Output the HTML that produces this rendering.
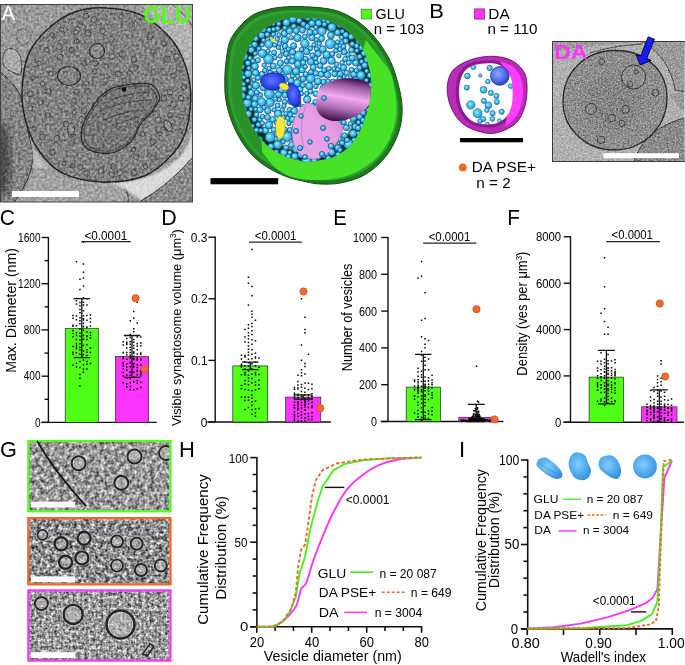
<!DOCTYPE html>
<html><head><meta charset="utf-8"><style>
html,body{margin:0;padding:0;background:#fff;width:685px;height:665px;overflow:hidden}
svg{display:block;will-change:transform}
text{font-family:"Liberation Sans", sans-serif}
</style></head><body>
<svg width="685" height="665" viewBox="0 0 685 665">
<defs>
<filter id="nzA" x="0" y="0" width="1" height="1" color-interpolation-filters="sRGB">
 <feTurbulence type="fractalNoise" baseFrequency="0.38" numOctaves="2" seed="4"/>
 <feColorMatrix type="matrix" values="1 0 0 0 0  1 0 0 0 0  1 0 0 0 0  0 0 0 0 1"/>
 <feComponentTransfer><feFuncR type="linear" slope="1.6" intercept="-0.3"/><feFuncG type="linear" slope="1.6" intercept="-0.3"/><feFuncB type="linear" slope="1.6" intercept="-0.3"/></feComponentTransfer>
 <feGaussianBlur stdDeviation="0.45"/>
</filter>
<filter id="nzB" x="0" y="0" width="1" height="1" color-interpolation-filters="sRGB">
 <feTurbulence type="fractalNoise" baseFrequency="0.6" numOctaves="2" seed="14"/>
 <feColorMatrix type="matrix" values="1 0 0 0 0  1 0 0 0 0  1 0 0 0 0  0 0 0 0 1"/>
 <feComponentTransfer><feFuncR type="linear" slope="1.4" intercept="-0.2"/><feFuncG type="linear" slope="1.4" intercept="-0.2"/><feFuncB type="linear" slope="1.4" intercept="-0.2"/></feComponentTransfer>
 <feGaussianBlur stdDeviation="0.35"/>
</filter>
<filter id="nzG" x="0" y="0" width="1" height="1" color-interpolation-filters="sRGB">
 <feTurbulence type="fractalNoise" baseFrequency="0.2" numOctaves="2" seed="9" result="n"/>
 <feColorMatrix in="n" type="matrix" values="1 0 0 0 0  1 0 0 0 0  1 0 0 0 0  0 0 0 0 1" result="g"/>
 <feComponentTransfer><feFuncR type="linear" slope="0.7" intercept="0.25"/><feFuncG type="linear" slope="0.7" intercept="0.25"/><feFuncB type="linear" slope="0.7" intercept="0.25"/></feComponentTransfer>
 <feConvolveMatrix order="3" kernelMatrix="-1 -1 -1 -1 12 -1 -1 -1 -1" preserveAlpha="true" edgeMode="duplicate"/>
 <feGaussianBlur stdDeviation="0.45"/>
</filter>
<filter id="nzG2" x="0" y="0" width="1" height="1" color-interpolation-filters="sRGB">
 <feTurbulence type="fractalNoise" baseFrequency="0.22" numOctaves="2" seed="21" result="n"/>
 <feColorMatrix in="n" type="matrix" values="1 0 0 0 0  1 0 0 0 0  1 0 0 0 0  0 0 0 0 1" result="g"/>
 <feComponentTransfer><feFuncR type="linear" slope="0.8" intercept="0.16"/><feFuncG type="linear" slope="0.8" intercept="0.16"/><feFuncB type="linear" slope="0.8" intercept="0.16"/></feComponentTransfer>
 <feConvolveMatrix order="3" kernelMatrix="-1 -1 -1 -1 12 -1 -1 -1 -1" preserveAlpha="true" edgeMode="duplicate"/>
 <feGaussianBlur stdDeviation="0.45"/>
</filter>
<filter id="nzG3" x="0" y="0" width="1" height="1" color-interpolation-filters="sRGB">
 <feTurbulence type="fractalNoise" baseFrequency="0.26" numOctaves="2" seed="33" result="n"/>
 <feColorMatrix in="n" type="matrix" values="1 0 0 0 0  1 0 0 0 0  1 0 0 0 0  0 0 0 0 1" result="g"/>
 <feComponentTransfer><feFuncR type="linear" slope="0.65" intercept="0.28"/><feFuncG type="linear" slope="0.65" intercept="0.28"/><feFuncB type="linear" slope="0.65" intercept="0.28"/></feComponentTransfer>
 <feConvolveMatrix order="3" kernelMatrix="-1 -1 -1 -1 12 -1 -1 -1 -1" preserveAlpha="true" edgeMode="duplicate"/>
 <feGaussianBlur stdDeviation="0.45"/>
</filter>
<filter id="bl2"><feGaussianBlur stdDeviation="2"/></filter>
<filter id="bl4"><feGaussianBlur stdDeviation="4"/></filter>
<filter id="bl1"><feGaussianBlur stdDeviation="0.8"/></filter>
<clipPath id="cA"><rect x="0.5" y="4.5" width="192" height="197.5"/></clipPath>
<clipPath id="cB"><rect x="552.5" y="41.5" width="132" height="119.5"/></clipPath>
<radialGradient id="sph" cx="0.42" cy="0.4" r="0.66"><stop offset="0" stop-color="#b4f2ff"/><stop offset="0.35" stop-color="#52cbf6"/><stop offset="0.8" stop-color="#2ea4da"/><stop offset="1" stop-color="#125f94"/></radialGradient>
<radialGradient id="bsph" cx="0.4" cy="0.38" r="0.7"><stop offset="0" stop-color="#8ea8ff"/><stop offset="0.6" stop-color="#4a6ae8"/><stop offset="1" stop-color="#2438b0"/></radialGradient><radialGradient id="bblob" cx="0.45" cy="0.45" r="0.65"><stop offset="0" stop-color="#5c78ff"/><stop offset="0.6" stop-color="#2f44e6"/><stop offset="1" stop-color="#1a24a8"/></radialGradient>
<linearGradient id="mito1" x1="0" y1="1" x2="1" y2="0"><stop offset="0" stop-color="#eaa6ea"/><stop offset="0.6" stop-color="#e69ee6"/><stop offset="1" stop-color="#c67ccc"/></linearGradient>
<radialGradient id="mito2" cx="0.55" cy="0.4" r="0.62"><stop offset="0" stop-color="#f0a8f0"/><stop offset="0.45" stop-color="#c47ac8"/><stop offset="0.85" stop-color="#6a2a70"/><stop offset="1" stop-color="#3a0a40"/></radialGradient>
</defs>
<g clip-path="url(#cA)">
<rect x="0" y="4" width="193" height="199" fill="#9a9a9a"/>
<path d="M140,4 L193,4 L193,100 C190,70 175,40 140,4 Z" fill="#b2b2b2"/>
<path d="M172,4.5 C180,10 187,18 193,27" stroke="#3a3a3a" stroke-width="0.9" fill="none"/>
<path d="M0,71 C8,80 19,88 22,100 C25,118 29,136 32,150 C34,165 30,180 14,203 L0,203 Z" fill="#858585"/>
<ellipse cx="2" cy="160" rx="9" ry="38" fill="#4a4a4a" filter="url(#bl4)"/>
<path d="M0,71 C8,80 19,88 22,100 C25,118 29,136 32,150 C34,165 30,180 14,203" stroke="#333" stroke-width="1" fill="none"/>
<path d="M30,138 C34,150 40,160 50,168 C44,169 38,169 34,168 C34,160 33,150 30,138 Z" fill="#bdbdbd" filter="url(#bl1)"/>
<path d="M34,168 C45,172 60,176 80,180 C100,183 115,182 121,183 C127,189 129,196 128,203 L14,203 C26,190 32,180 34,168 Z" fill="#a2a2a2"/>
<path d="M121,183 C127,189 129,196 128,203" stroke="#3a3a3a" stroke-width="1" fill="none"/>
<path d="M138,203 C155,190 175,175 193,158 L193,203 Z" fill="#8a8a8a"/>
<path d="M110,182 C140,184 165,172 182,155 C188,147 191,138 193,128 L193,158 C178,175 160,190 141,201 C133,193 122,187 110,182 Z" fill="#dadada" filter="url(#bl1)"/>
<path d="M141,201 C160,190 178,175 193,157" stroke="#404040" stroke-width="1.1" fill="none"/>
<path d="M3,63 C2,54 6,48 11,48.5 C17,49 21,55 21.5,63 C22,68 21.5,72 20.5,75 C14,73 5,70 3,63 Z" fill="#aaaaaa" stroke="#3a3a3a" stroke-width="0.9"/>
<path d="M18,30 C23,27 30,30 31,36 C31,41 27,45 22,44 C17,43 15,35 18,30 Z" fill="none" stroke="#555" stroke-width="0.8"/>
<path d="M101.7,7.7 C112.5,8.0 127.9,9.5 138.7,13.9 C149.5,18.3 159.2,26.7 166.4,33.9 C173.6,41.1 178.0,47.6 182.0,57.0 C186.0,66.3 189.8,77.9 190.5,90.0 C191.2,102.1 189.4,118.8 186.4,129.5 C183.4,140.2 179.5,146.4 172.6,154.1 C165.7,161.8 156.6,171.1 144.8,175.7 C133.0,180.3 115.6,182.4 101.7,181.9 C87.8,181.4 72.4,178.2 61.6,172.6 C50.8,166.9 43.1,157.2 37.0,148.0 C30.8,138.8 27.2,127.4 24.7,117.1 C22.2,106.8 21.4,97.1 22.2,86.3 C23.0,75.5 24.8,62.2 29.3,52.4 C33.8,42.6 41.8,34.4 49.3,27.7 C56.8,21.0 65.3,15.6 74.0,12.3 C82.7,9.0 90.9,7.4 101.7,7.7 Z" fill="#828282" stroke="#262626" stroke-width="1.5"/>
<path d="M123.5,85.3 C128.6,84.3 135.1,83.5 140.0,83.5 C144.9,83.5 149.4,82.9 152.7,85.3 C156.0,87.7 159.7,93.2 159.6,97.7 C159.5,102.2 155.0,107.8 152.0,112.0 C149.0,116.2 145.2,117.7 141.6,122.7 C138.0,127.7 135.8,137.0 130.5,142.1 C125.2,147.2 117.1,152.3 109.7,153.2 C102.3,154.1 90.7,151.8 86.1,147.7 C81.5,143.5 80.3,135.9 81.9,128.3 C83.5,120.7 91.2,108.4 95.8,101.9 C100.4,95.4 105.1,92.2 109.7,89.4 C114.3,86.6 118.5,86.3 123.5,85.3 Z" fill="#777777" stroke="#2a2a2a" stroke-width="1.3"/>
<path d="M123.3,87.7 C128.0,86.7 134.1,86.0 138.7,86.0 C143.2,86.0 147.4,85.5 150.5,87.7 C153.5,89.9 157.0,95.1 156.9,99.2 C156.8,103.3 152.6,108.6 149.8,112.5 C147.0,116.4 143.5,117.8 140.2,122.4 C136.8,127.1 134.8,135.8 129.8,140.5 C124.9,145.2 117.4,149.9 110.5,150.8 C103.6,151.7 92.9,149.6 88.5,145.7 C84.2,141.8 83.1,134.7 84.6,127.6 C86.1,120.6 93.3,109.1 97.6,103.1 C101.9,97.1 106.2,94.0 110.5,91.5 C114.8,88.9 118.6,88.6 123.3,87.7 Z" fill="none" stroke="#3a3a3a" stroke-width="0.8"/>
<path d="M103,104 C118,96 135,92 150,92 M98,112 C115,104 135,100 152,100 M104,120 C118,114 132,110 146,110 M112,126 C124,121 134,118 140,117" stroke="#3c3c3c" stroke-width="0.8" fill="none"/>
<ellipse cx="124" cy="89.5" rx="2.4" ry="2.2" fill="#111"/>
<g fill="#8a8a8a" stroke="#4a4a4a" stroke-width="1.0"><circle cx="145.6" cy="166.8" r="2.2"/><circle cx="100.9" cy="170.4" r="2.8"/><circle cx="60.3" cy="57.5" r="3.0"/><circle cx="149.8" cy="37.1" r="2.9"/><circle cx="47.6" cy="115.0" r="2.3"/><circle cx="59.1" cy="46.6" r="3.1"/><circle cx="167.2" cy="59.2" r="3.1"/><circle cx="52.1" cy="34.8" r="2.3"/><circle cx="74.1" cy="112.5" r="2.2"/><circle cx="135.5" cy="67.4" r="2.5"/><circle cx="76.5" cy="91.8" r="2.8"/><circle cx="153.4" cy="72.3" r="2.7"/><circle cx="57.0" cy="138.5" r="3.0"/><circle cx="178.6" cy="68.5" r="2.5"/><circle cx="42.6" cy="137.2" r="2.9"/><circle cx="80.4" cy="167.1" r="2.7"/><circle cx="93.7" cy="19.5" r="3.0"/><circle cx="30.3" cy="93.9" r="3.0"/><circle cx="42.4" cy="83.9" r="2.3"/><circle cx="184.1" cy="87.1" r="2.6"/><circle cx="181.4" cy="116.6" r="2.6"/><circle cx="80.2" cy="25.2" r="2.4"/><circle cx="152.5" cy="157.5" r="2.5"/><circle cx="153.1" cy="141.7" r="2.8"/><circle cx="65.9" cy="124.2" r="2.6"/><circle cx="158.1" cy="120.1" r="2.9"/><circle cx="81.7" cy="119.5" r="2.9"/><circle cx="166.8" cy="127.0" r="3.1"/><circle cx="180.9" cy="98.1" r="2.7"/><circle cx="52.1" cy="152.2" r="3.0"/><circle cx="142.3" cy="134.2" r="2.4"/><circle cx="76.7" cy="40.9" r="2.4"/><circle cx="63.8" cy="163.5" r="2.2"/><circle cx="85.9" cy="16.1" r="2.8"/><circle cx="40.5" cy="102.7" r="2.5"/><circle cx="119.7" cy="172.9" r="2.9"/><circle cx="129.7" cy="72.8" r="2.3"/><circle cx="86.3" cy="83.4" r="2.4"/><circle cx="86.9" cy="173.4" r="3.0"/><circle cx="122.1" cy="54.2" r="3.1"/><circle cx="105.9" cy="80.6" r="2.5"/><circle cx="102.7" cy="30.7" r="2.8"/><circle cx="111.8" cy="56.5" r="3.0"/><circle cx="152.5" cy="51.8" r="2.4"/><circle cx="74.0" cy="100.7" r="2.5"/><circle cx="121.3" cy="16.2" r="2.4"/><circle cx="173.6" cy="75.5" r="2.6"/><circle cx="163.9" cy="43.4" r="2.5"/><circle cx="71.7" cy="142.7" r="3.0"/><circle cx="48.3" cy="91.3" r="2.7"/><circle cx="106.1" cy="66.2" r="2.3"/><circle cx="180.2" cy="131.1" r="2.3"/><circle cx="72.7" cy="166.1" r="2.3"/><circle cx="124.5" cy="80.4" r="2.3"/><circle cx="95.4" cy="63.5" r="2.7"/><circle cx="34.1" cy="128.5" r="2.3"/><circle cx="173.4" cy="104.3" r="2.8"/><circle cx="46.8" cy="49.9" r="2.5"/><circle cx="131.8" cy="24.5" r="2.8"/><circle cx="133.4" cy="149.5" r="2.3"/><circle cx="87.9" cy="33.2" r="2.9"/><circle cx="163.8" cy="98.0" r="2.7"/><circle cx="169.9" cy="91.8" r="2.9"/><circle cx="170.0" cy="115.3" r="2.6"/><circle cx="50.9" cy="73.7" r="2.5"/><circle cx="71.8" cy="50.0" r="2.6"/><circle cx="134.0" cy="59.5" r="2.8"/><circle cx="84.4" cy="63.0" r="2.6"/><circle cx="71.2" cy="134.5" r="2.8"/><circle cx="33.2" cy="77.5" r="2.3"/><circle cx="38.8" cy="63.4" r="2.3"/><circle cx="113.3" cy="166.6" r="2.7"/><circle cx="118.1" cy="74.0" r="2.8"/><circle cx="61.5" cy="29.7" r="2.5"/><circle cx="76.0" cy="32.1" r="2.3"/><circle cx="94.9" cy="71.6" r="2.5"/><circle cx="159.8" cy="133.6" r="2.3"/><circle cx="111.4" cy="39.1" r="2.8"/><circle cx="111.8" cy="174.8" r="2.7"/><circle cx="30.4" cy="108.1" r="2.6"/><circle cx="136.3" cy="156.7" r="2.8"/><circle cx="87.4" cy="90.9" r="2.8"/><circle cx="84.1" cy="110.9" r="2.8"/><circle cx="176.5" cy="56.7" r="2.8"/><circle cx="134.2" cy="172.7" r="3.0"/></g>
<circle cx="97" cy="51" r="7.5" fill="#8a8a8a" stroke="#2a2a2a" stroke-width="1.2"/>
<ellipse cx="69" cy="76" rx="11.5" ry="9.5" fill="#848484" stroke="#2a2a2a" stroke-width="1.2"/>
<ellipse cx="71" cy="129" rx="3.5" ry="6" fill="#909090" stroke="#3a3a3a" stroke-width="1"/>
<ellipse cx="168" cy="126" rx="3.6" ry="6" transform="rotate(-30 168 126)" fill="#909090" stroke="#3a3a3a" stroke-width="1"/>
<rect x="0" y="4" width="193" height="199" filter="url(#nzA)" opacity="0.38" style="mix-blend-mode:overlay"/>
</g>
<rect x="0.5" y="4.5" width="192" height="197.5" fill="none" stroke="#444" stroke-width="1"/>
<rect x="12" y="191" width="67" height="6" fill="#fff"/>
<text x="1.80" y="20.30" font-size="20.00" fill="#fff" textLength="13.14" lengthAdjust="spacingAndGlyphs">A</text>
<text x="143.39" y="23.00" font-size="23.50" fill="#50ff16" font-weight="bold" textLength="47.78" lengthAdjust="spacingAndGlyphs">GLU</text>
<path d="M300.0,6.6 C306.8,6.8 317.9,7.3 324.8,8.3 C331.7,9.3 335.9,10.2 341.4,12.4 C346.9,14.6 352.9,18.1 357.9,21.5 C362.8,24.9 367.0,28.7 371.1,33.1 C375.2,37.5 379.1,42.5 382.7,48.0 C386.3,53.5 389.8,59.2 392.6,66.2 C395.4,73.2 398.0,83.4 399.6,90.0 C401.2,96.6 401.7,100.7 402.0,106.0 C402.3,111.3 402.1,116.7 401.2,122.1 C400.3,127.5 398.7,132.8 396.4,138.2 C394.1,143.5 391.0,149.4 387.5,154.2 C384.0,159.0 379.9,163.3 375.5,167.1 C371.1,170.8 366.9,174.0 361.0,176.7 C355.1,179.4 347.0,181.9 340.1,183.1 C333.2,184.3 325.8,184.3 319.5,184.0 C313.2,183.7 308.2,182.2 302.6,181.0 C297.0,179.8 291.9,178.7 286.1,176.5 C280.3,174.3 273.4,171.0 267.9,167.6 C262.4,164.2 257.5,160.4 253.1,156.0 C248.7,151.6 245.1,147.0 241.5,141.2 C237.9,135.4 234.2,128.2 231.6,121.3 C229.0,114.4 226.9,106.7 225.8,99.8 C224.7,92.9 224.8,86.3 224.8,80.0 C224.8,73.7 225.2,68.5 226.0,62.0 C226.8,55.5 227.6,47.2 229.9,41.3 C232.2,35.4 236.0,30.8 239.8,26.4 C243.7,22.0 248.0,17.8 253.0,14.9 C258.0,12.0 264.4,10.4 269.6,9.1 C274.8,7.8 278.9,7.4 284.0,7.0 C289.1,6.6 293.2,6.4 300.0,6.6 Z" fill="#1f7a1f" stroke="#124d12" stroke-width="1"/>
<path d="M300.5,10.1 C307.0,10.3 317.7,10.8 324.3,11.8 C330.9,12.7 334.9,13.6 340.2,15.7 C345.5,17.8 351.3,21.1 356.1,24.4 C360.8,27.8 364.8,31.3 368.7,35.6 C372.7,39.8 376.4,44.6 379.9,49.9 C383.3,55.2 386.7,60.6 389.4,67.4 C392.1,74.1 394.6,83.8 396.1,90.2 C397.6,96.6 398.1,100.4 398.4,105.6 C398.7,110.7 398.5,115.9 397.6,121.0 C396.7,126.2 395.2,131.3 393.0,136.5 C390.8,141.6 387.8,147.2 384.5,151.8 C381.1,156.5 377.2,160.6 373.0,164.2 C368.7,167.8 364.7,170.9 359.0,173.4 C353.4,176.0 345.6,178.4 339.0,179.6 C332.3,180.7 325.2,180.8 319.2,180.4 C313.2,180.1 308.3,178.8 303.0,177.6 C297.6,176.4 292.7,175.4 287.1,173.2 C281.6,171.1 274.9,168.0 269.7,164.7 C264.4,161.4 259.7,157.8 255.5,153.6 C251.2,149.3 247.8,144.9 244.3,139.4 C240.9,133.8 237.3,126.9 234.8,120.2 C232.3,113.6 230.3,106.2 229.2,99.6 C228.2,93.0 228.3,86.6 228.3,80.6 C228.3,74.6 228.6,69.5 229.4,63.3 C230.3,57.1 231.0,49.1 233.2,43.4 C235.4,37.8 239.0,33.4 242.7,29.1 C246.4,24.9 250.6,20.9 255.4,18.1 C260.1,15.3 266.3,13.8 271.3,12.5 C276.3,11.3 280.3,10.9 285.1,10.5 C290.0,10.1 294.0,9.9 300.5,10.1 Z" fill="#2fa02f"/>
<path d="M300.9,13.2 C307.2,13.4 317.5,13.9 323.8,14.8 C330.2,15.7 334.1,16.6 339.2,18.6 C344.3,20.6 349.9,23.8 354.5,27.0 C359.0,30.2 362.8,33.7 366.7,37.7 C370.5,41.8 374.1,46.4 377.4,51.5 C380.7,56.6 383.9,61.9 386.6,68.4 C389.2,74.8 391.6,84.2 393.0,90.4 C394.5,96.5 395.0,100.2 395.2,105.2 C395.5,110.1 395.4,115.1 394.5,120.1 C393.6,125.0 392.2,130.0 390.1,135.0 C388.0,139.9 385.1,145.3 381.8,149.8 C378.6,154.2 374.8,158.2 370.7,161.7 C366.7,165.2 362.8,168.1 357.3,170.6 C351.9,173.0 344.4,175.4 338.0,176.5 C331.6,177.6 324.7,177.6 318.9,177.3 C313.2,177.0 308.5,175.7 303.3,174.6 C298.2,173.4 293.4,172.5 288.0,170.4 C282.7,168.3 276.3,165.3 271.2,162.2 C266.1,159.0 261.6,155.5 257.5,151.4 C253.4,147.4 250.1,143.1 246.8,137.7 C243.5,132.4 240.1,125.7 237.6,119.3 C235.2,112.9 233.3,105.8 232.3,99.4 C231.2,93.1 231.3,87.0 231.3,81.1 C231.4,75.3 231.7,70.4 232.4,64.5 C233.2,58.5 233.9,50.8 236.1,45.3 C238.2,39.8 241.7,35.6 245.2,31.5 C248.8,27.5 252.8,23.6 257.4,20.9 C262.0,18.2 268.0,16.8 272.8,15.5 C277.6,14.3 281.4,14.0 286.1,13.6 C290.8,13.2 294.6,13.0 300.9,13.2 Z" fill="#289228"/>
<path d="M366.0,40.0 C368.3,43.0 376.0,52.7 380.0,58.0 C384.0,63.3 387.6,66.7 390.0,72.0 C392.4,77.3 393.6,83.0 394.7,90.0 C395.8,97.0 397.2,106.0 396.4,114.0 C395.6,122.0 393.2,130.8 390.0,138.0 C386.8,145.2 382.6,151.8 377.0,157.4 C371.4,163.1 363.7,168.3 356.2,171.9 C348.7,175.5 341.5,177.9 332.1,179.1 C322.7,180.3 309.0,180.5 300.0,179.0 C291.0,177.5 284.3,174.5 278.0,170.0 C271.7,165.5 264.7,155.0 262.0,152.0 L261.3,139.5 C263.5,141.4 269.8,148.0 274.5,151.0 C279.2,154.0 284.1,155.9 289.4,157.7 C294.6,159.5 301.6,161.3 306.0,161.8 C310.4,162.3 311.6,161.4 316.0,160.7 C320.4,160.0 326.7,159.6 332.1,157.4 C337.5,155.2 343.6,152.1 348.2,147.8 C352.8,143.5 356.2,138.0 359.4,131.8 C362.6,125.7 365.5,117.0 367.4,110.9 C369.2,104.8 369.9,100.2 370.5,95.0 C371.1,89.8 371.6,84.8 371.1,79.4 C370.7,74.1 369.2,67.9 367.8,62.9 C366.4,57.9 363.7,51.8 362.9,49.6 Z" fill="#47e227"/>
<clipPath id="cO"><path d="M300.0,18.2 C305.8,18.5 317.6,18.2 324.8,19.9 C332.0,21.5 338.0,25.1 343.0,28.1 C348.0,31.1 351.3,34.4 354.6,38.0 C357.9,41.6 360.7,45.5 362.9,49.6 C365.1,53.8 366.4,57.9 367.8,62.9 C369.2,67.9 370.7,74.1 371.1,79.4 C371.6,84.8 371.1,89.8 370.5,95.0 C369.9,100.2 369.2,104.8 367.4,110.9 C365.5,117.0 362.6,125.7 359.4,131.8 C356.2,138.0 352.8,143.5 348.2,147.8 C343.6,152.1 337.5,155.2 332.1,157.4 C326.7,159.6 320.4,160.0 316.0,160.7 C311.6,161.4 310.4,162.3 306.0,161.8 C301.6,161.3 294.6,159.5 289.4,157.7 C284.1,155.9 279.2,154.0 274.5,151.0 C269.8,148.0 265.4,144.4 261.3,139.5 C257.2,134.6 252.8,127.9 249.8,121.3 C246.8,114.7 244.3,106.7 243.1,99.8 C241.8,92.9 242.3,86.0 242.3,80.0 C242.3,74.0 241.8,69.7 243.0,64.0 C244.2,58.3 246.5,51.4 249.5,46.0 C252.5,40.6 256.2,35.6 261.0,31.5 C265.8,27.4 273.2,23.8 278.0,21.5 C282.8,19.2 286.3,18.6 290.0,18.0 C293.7,17.4 294.2,17.9 300.0,18.2 Z"/></clipPath>
<path d="M300.0,18.2 C305.8,18.5 317.6,18.2 324.8,19.9 C332.0,21.5 338.0,25.1 343.0,28.1 C348.0,31.1 351.3,34.4 354.6,38.0 C357.9,41.6 360.7,45.5 362.9,49.6 C365.1,53.8 366.4,57.9 367.8,62.9 C369.2,67.9 370.7,74.1 371.1,79.4 C371.6,84.8 371.1,89.8 370.5,95.0 C369.9,100.2 369.2,104.8 367.4,110.9 C365.5,117.0 362.6,125.7 359.4,131.8 C356.2,138.0 352.8,143.5 348.2,147.8 C343.6,152.1 337.5,155.2 332.1,157.4 C326.7,159.6 320.4,160.0 316.0,160.7 C311.6,161.4 310.4,162.3 306.0,161.8 C301.6,161.3 294.6,159.5 289.4,157.7 C284.1,155.9 279.2,154.0 274.5,151.0 C269.8,148.0 265.4,144.4 261.3,139.5 C257.2,134.6 252.8,127.9 249.8,121.3 C246.8,114.7 244.3,106.7 243.1,99.8 C241.8,92.9 242.3,86.0 242.3,80.0 C242.3,74.0 241.8,69.7 243.0,64.0 C244.2,58.3 246.5,51.4 249.5,46.0 C252.5,40.6 256.2,35.6 261.0,31.5 C265.8,27.4 273.2,23.8 278.0,21.5 C282.8,19.2 286.3,18.6 290.0,18.0 C293.7,17.4 294.2,17.9 300.0,18.2 Z" fill="#ffffff"/>
<g clip-path="url(#cO)">
<path d="M300.0,18.2 C305.8,18.5 317.6,18.2 324.8,19.9 C332.0,21.5 338.0,25.1 343.0,28.1 C348.0,31.1 351.3,34.4 354.6,38.0 C357.9,41.6 360.7,45.5 362.9,49.6 C365.1,53.8 366.4,57.9 367.8,62.9 C369.2,67.9 370.7,74.1 371.1,79.4 C371.6,84.8 371.1,89.8 370.5,95.0 C369.9,100.2 369.2,104.8 367.4,110.9 C365.5,117.0 362.6,125.7 359.4,131.8 C356.2,138.0 352.8,143.5 348.2,147.8 C343.6,152.1 337.5,155.2 332.1,157.4 C326.7,159.6 320.4,160.0 316.0,160.7 C311.6,161.4 310.4,162.3 306.0,161.8 C301.6,161.3 294.6,159.5 289.4,157.7 C284.1,155.9 279.2,154.0 274.5,151.0 C269.8,148.0 265.4,144.4 261.3,139.5 C257.2,134.6 252.8,127.9 249.8,121.3 C246.8,114.7 244.3,106.7 243.1,99.8 C241.8,92.9 242.3,86.0 242.3,80.0 C242.3,74.0 241.8,69.7 243.0,64.0 C244.2,58.3 246.5,51.4 249.5,46.0 C252.5,40.6 256.2,35.6 261.0,31.5 C265.8,27.4 273.2,23.8 278.0,21.5 C282.8,19.2 286.3,18.6 290.0,18.0 C293.7,17.4 294.2,17.9 300.0,18.2 Z" fill="none" stroke="#0a360a" stroke-width="18" filter="url(#bl1)"/>
<g fill="url(#sph)" stroke="#0c4a7a" stroke-width="0.7"><circle cx="269.1" cy="160.3" r="2.9"/><circle cx="264.5" cy="20.7" r="2.9"/><circle cx="271.9" cy="165.9" r="3.1"/><circle cx="292.9" cy="18.6" r="4.3"/><circle cx="300.1" cy="89.2" r="3.1"/><circle cx="360.9" cy="75.2" r="4.3"/><circle cx="270.1" cy="17.0" r="3.3"/><circle cx="309.3" cy="86.1" r="3.8"/><circle cx="337.5" cy="114.8" r="2.6"/><circle cx="373.8" cy="23.6" r="3.8"/><circle cx="252.8" cy="22.8" r="3.1"/><circle cx="332.7" cy="89.6" r="5.0"/><circle cx="361.5" cy="102.4" r="2.9"/><circle cx="321.1" cy="96.0" r="2.3"/><circle cx="304.9" cy="43.5" r="4.3"/><circle cx="337.9" cy="147.9" r="3.3"/><circle cx="314.4" cy="144.0" r="3.8"/><circle cx="256.5" cy="130.2" r="2.6"/><circle cx="310.9" cy="61.7" r="3.5"/><circle cx="368.1" cy="142.2" r="5.0"/><circle cx="323.5" cy="60.9" r="3.5"/><circle cx="310.4" cy="91.5" r="2.6"/><circle cx="348.7" cy="144.2" r="5.0"/><circle cx="268.1" cy="51.1" r="2.3"/><circle cx="278.5" cy="47.4" r="2.3"/><circle cx="296.0" cy="71.3" r="3.8"/><circle cx="262.0" cy="74.2" r="2.9"/><circle cx="265.6" cy="130.5" r="3.3"/><circle cx="254.0" cy="135.1" r="3.8"/><circle cx="284.8" cy="39.9" r="3.8"/><circle cx="362.0" cy="35.1" r="4.3"/><circle cx="293.8" cy="26.2" r="2.6"/><circle cx="277.6" cy="28.5" r="2.6"/><circle cx="328.9" cy="130.2" r="5.0"/><circle cx="287.3" cy="136.8" r="5.0"/><circle cx="304.9" cy="36.6" r="2.6"/><circle cx="264.0" cy="152.7" r="3.5"/><circle cx="290.9" cy="101.2" r="3.3"/><circle cx="286.1" cy="160.7" r="2.3"/><circle cx="357.9" cy="19.0" r="2.9"/><circle cx="262.4" cy="161.4" r="4.3"/><circle cx="254.6" cy="44.5" r="3.1"/><circle cx="337.4" cy="122.8" r="4.3"/><circle cx="268.9" cy="44.0" r="4.3"/><circle cx="335.0" cy="107.0" r="2.3"/><circle cx="327.8" cy="140.0" r="5.0"/><circle cx="250.8" cy="161.1" r="5.0"/><circle cx="350.2" cy="100.5" r="5.0"/><circle cx="269.4" cy="93.9" r="5.0"/><circle cx="326.7" cy="15.0" r="3.3"/><circle cx="362.5" cy="127.0" r="3.8"/><circle cx="268.6" cy="59.1" r="5.0"/><circle cx="295.5" cy="127.1" r="3.5"/><circle cx="308.7" cy="109.0" r="3.5"/><circle cx="345.3" cy="59.0" r="2.6"/><circle cx="353.4" cy="118.0" r="3.5"/><circle cx="330.2" cy="43.8" r="5.0"/><circle cx="307.5" cy="26.5" r="2.9"/><circle cx="247.4" cy="125.4" r="3.3"/><circle cx="373.5" cy="132.6" r="3.3"/><circle cx="373.2" cy="55.7" r="5.0"/><circle cx="346.3" cy="127.6" r="3.1"/><circle cx="270.1" cy="137.3" r="5.0"/><circle cx="351.7" cy="69.9" r="2.6"/><circle cx="346.7" cy="73.0" r="2.9"/><circle cx="344.9" cy="164.9" r="2.3"/><circle cx="345.7" cy="34.8" r="3.1"/><circle cx="331.9" cy="27.2" r="4.3"/><circle cx="301.0" cy="115.7" r="3.3"/><circle cx="364.8" cy="28.1" r="3.5"/><circle cx="247.1" cy="150.8" r="3.5"/><circle cx="297.5" cy="37.9" r="3.8"/><circle cx="258.4" cy="124.6" r="2.6"/><circle cx="364.7" cy="65.2" r="3.1"/><circle cx="345.7" cy="41.0" r="2.9"/><circle cx="338.9" cy="86.8" r="2.6"/><circle cx="374.6" cy="155.5" r="2.9"/><circle cx="333.2" cy="82.2" r="3.3"/><circle cx="294.8" cy="156.3" r="3.5"/><circle cx="332.8" cy="163.5" r="4.3"/><circle cx="306.5" cy="161.7" r="5.0"/><circle cx="346.1" cy="91.8" r="3.1"/><circle cx="315.9" cy="73.4" r="2.9"/><circle cx="351.0" cy="112.4" r="2.6"/><circle cx="277.9" cy="18.9" r="3.5"/><circle cx="351.7" cy="16.2" r="2.9"/><circle cx="315.3" cy="102.0" r="2.6"/><circle cx="289.1" cy="90.4" r="3.5"/><circle cx="373.1" cy="68.4" r="3.5"/><circle cx="289.4" cy="109.6" r="2.3"/><circle cx="338.6" cy="155.2" r="3.5"/><circle cx="287.4" cy="69.7" r="5.0"/><circle cx="261.7" cy="35.2" r="3.3"/><circle cx="318.0" cy="53.6" r="3.3"/><circle cx="277.7" cy="144.7" r="4.3"/><circle cx="284.7" cy="101.9" r="2.6"/><circle cx="312.9" cy="121.8" r="2.9"/><circle cx="267.8" cy="110.7" r="3.3"/><circle cx="367.8" cy="135.5" r="2.6"/><circle cx="239.9" cy="81.4" r="3.1"/><circle cx="248.2" cy="114.0" r="3.5"/><circle cx="366.3" cy="80.3" r="2.3"/><circle cx="272.7" cy="119.5" r="3.1"/><circle cx="292.4" cy="119.3" r="3.3"/><circle cx="280.2" cy="56.1" r="2.3"/><circle cx="293.6" cy="45.7" r="3.1"/><circle cx="259.4" cy="139.4" r="3.1"/><circle cx="331.7" cy="152.2" r="3.5"/><circle cx="322.6" cy="107.8" r="4.3"/><circle cx="251.3" cy="92.9" r="3.5"/><circle cx="321.6" cy="38.6" r="3.1"/><circle cx="284.3" cy="33.5" r="3.3"/><circle cx="247.9" cy="63.1" r="2.9"/><circle cx="353.1" cy="154.1" r="3.8"/><circle cx="286.7" cy="61.2" r="2.6"/><circle cx="240.2" cy="16.3" r="5.0"/><circle cx="281.7" cy="121.2" r="2.6"/><circle cx="321.8" cy="31.3" r="4.3"/><circle cx="272.0" cy="154.0" r="2.3"/><circle cx="338.9" cy="55.8" r="2.3"/><circle cx="358.5" cy="96.2" r="2.3"/><circle cx="366.7" cy="93.5" r="2.9"/><circle cx="372.7" cy="101.2" r="5.0"/><circle cx="338.9" cy="100.1" r="3.8"/><circle cx="323.5" cy="81.9" r="2.9"/><circle cx="278.8" cy="127.8" r="3.5"/><circle cx="286.4" cy="22.5" r="3.8"/><circle cx="298.0" cy="120.6" r="3.1"/><circle cx="303.3" cy="24.0" r="2.6"/><circle cx="263.2" cy="87.8" r="3.1"/><circle cx="242.1" cy="66.9" r="2.6"/><circle cx="317.9" cy="81.4" r="3.5"/><circle cx="251.8" cy="142.5" r="2.3"/><circle cx="319.5" cy="133.3" r="4.3"/><circle cx="368.7" cy="110.4" r="2.9"/><circle cx="298.8" cy="56.0" r="5.0"/><circle cx="307.2" cy="99.4" r="3.8"/><circle cx="367.0" cy="59.6" r="3.1"/><circle cx="361.5" cy="47.6" r="2.9"/><circle cx="291.1" cy="80.9" r="3.3"/><circle cx="280.4" cy="162.9" r="2.6"/><circle cx="240.8" cy="152.4" r="3.5"/><circle cx="374.5" cy="120.8" r="2.3"/><circle cx="312.7" cy="156.6" r="2.3"/><circle cx="328.8" cy="68.5" r="2.6"/><circle cx="271.0" cy="146.4" r="3.1"/><circle cx="281.3" cy="90.0" r="3.1"/><circle cx="308.2" cy="129.9" r="2.9"/><circle cx="355.6" cy="62.8" r="3.3"/><circle cx="259.9" cy="119.5" r="2.3"/><circle cx="320.3" cy="18.1" r="2.3"/><circle cx="336.8" cy="129.7" r="2.9"/><circle cx="369.2" cy="129.7" r="2.3"/><circle cx="254.0" cy="16.3" r="4.3"/><circle cx="255.6" cy="109.2" r="2.3"/><circle cx="353.1" cy="133.5" r="3.8"/><circle cx="310.6" cy="78.6" r="4.3"/><circle cx="312.8" cy="105.5" r="2.3"/><circle cx="270.4" cy="73.5" r="3.3"/><circle cx="341.5" cy="42.9" r="2.3"/><circle cx="255.2" cy="53.5" r="2.3"/><circle cx="328.1" cy="21.5" r="2.6"/><circle cx="358.1" cy="110.6" r="2.9"/><circle cx="341.3" cy="15.3" r="4.3"/><circle cx="302.1" cy="69.9" r="3.1"/><circle cx="283.9" cy="152.8" r="3.8"/><circle cx="280.3" cy="63.2" r="3.3"/><circle cx="269.2" cy="30.0" r="2.6"/><circle cx="303.1" cy="107.4" r="2.9"/><circle cx="263.0" cy="81.1" r="2.6"/><circle cx="301.6" cy="49.5" r="2.3"/><circle cx="247.7" cy="80.8" r="2.3"/><circle cx="361.5" cy="146.0" r="2.6"/><circle cx="248.1" cy="73.7" r="3.8"/><circle cx="274.2" cy="109.9" r="2.3"/><circle cx="347.5" cy="19.0" r="2.3"/><circle cx="305.7" cy="58.7" r="2.6"/><circle cx="304.7" cy="146.1" r="4.3"/><circle cx="286.1" cy="53.8" r="2.9"/><circle cx="337.6" cy="32.4" r="3.1"/><circle cx="332.7" cy="97.7" r="2.9"/><circle cx="262.2" cy="53.3" r="4.3"/><circle cx="358.9" cy="41.2" r="3.1"/><circle cx="331.5" cy="60.6" r="3.8"/><circle cx="345.0" cy="83.1" r="2.9"/><circle cx="325.4" cy="149.2" r="2.9"/><circle cx="343.9" cy="76.8" r="2.3"/><circle cx="369.9" cy="35.1" r="4.3"/><circle cx="255.8" cy="85.4" r="3.8"/><circle cx="285.1" cy="46.2" r="2.9"/><circle cx="296.8" cy="162.0" r="3.1"/><circle cx="345.9" cy="26.1" r="3.1"/><circle cx="255.3" cy="98.5" r="3.1"/><circle cx="328.4" cy="158.3" r="2.9"/><circle cx="240.8" cy="48.9" r="3.5"/><circle cx="248.3" cy="140.2" r="2.3"/><circle cx="247.3" cy="103.2" r="4.3"/><circle cx="267.4" cy="117.5" r="2.9"/><circle cx="243.7" cy="89.0" r="2.9"/><circle cx="277.0" cy="134.5" r="2.6"/><circle cx="327.3" cy="74.8" r="3.5"/><circle cx="277.6" cy="105.5" r="2.6"/><circle cx="344.1" cy="51.8" r="3.1"/><circle cx="246.9" cy="40.6" r="3.5"/><circle cx="320.4" cy="163.0" r="3.1"/><circle cx="359.7" cy="116.7" r="3.1"/><circle cx="314.7" cy="17.8" r="3.3"/><circle cx="260.1" cy="109.8" r="3.1"/><circle cx="355.4" cy="126.6" r="3.3"/><circle cx="291.7" cy="144.8" r="3.1"/><circle cx="369.5" cy="46.5" r="3.3"/><circle cx="341.4" cy="37.4" r="2.3"/><circle cx="332.3" cy="145.2" r="2.3"/><circle cx="357.4" cy="163.8" r="4.3"/><circle cx="314.3" cy="161.1" r="3.3"/><circle cx="371.5" cy="85.2" r="3.1"/><circle cx="296.2" cy="30.7" r="3.1"/><circle cx="316.5" cy="48.9" r="2.3"/><circle cx="312.0" cy="23.2" r="3.3"/><circle cx="343.4" cy="87.9" r="2.3"/><circle cx="316.1" cy="39.9" r="2.3"/><circle cx="284.0" cy="106.0" r="2.3"/><circle cx="339.4" cy="138.9" r="2.9"/><circle cx="296.3" cy="149.0" r="3.8"/><circle cx="289.9" cy="130.0" r="2.6"/><circle cx="262.1" cy="44.8" r="2.3"/><circle cx="360.9" cy="84.4" r="3.5"/><circle cx="373.5" cy="14.2" r="5.0"/><circle cx="340.3" cy="162.5" r="2.9"/><circle cx="371.1" cy="165.2" r="5.0"/><circle cx="306.6" cy="51.5" r="3.3"/><circle cx="251.3" cy="49.8" r="3.3"/><circle cx="352.3" cy="57.9" r="3.1"/><circle cx="302.3" cy="134.0" r="2.3"/><circle cx="241.5" cy="127.0" r="2.3"/><circle cx="275.3" cy="83.0" r="4.3"/><circle cx="320.1" cy="122.9" r="2.3"/><circle cx="366.6" cy="71.0" r="2.3"/><circle cx="328.0" cy="102.1" r="4.3"/><circle cx="320.1" cy="65.6" r="2.9"/><circle cx="278.1" cy="113.8" r="3.8"/><circle cx="334.6" cy="135.3" r="2.9"/><circle cx="273.4" cy="34.4" r="2.3"/><circle cx="289.5" cy="31.1" r="3.3"/><circle cx="343.1" cy="158.0" r="2.6"/><circle cx="301.2" cy="128.2" r="2.9"/><circle cx="292.2" cy="61.0" r="3.3"/><circle cx="307.9" cy="18.0" r="2.9"/><circle cx="274.1" cy="52.5" r="2.6"/><circle cx="298.0" cy="137.4" r="2.3"/><circle cx="297.2" cy="83.0" r="3.8"/><circle cx="322.8" cy="49.2" r="3.5"/><circle cx="374.9" cy="111.3" r="2.3"/><circle cx="297.5" cy="103.5" r="3.5"/><circle cx="360.3" cy="153.0" r="2.6"/><circle cx="283.1" cy="141.7" r="2.3"/><circle cx="311.9" cy="37.5" r="3.3"/><circle cx="253.4" cy="33.5" r="2.9"/><circle cx="370.0" cy="123.8" r="2.3"/><circle cx="277.2" cy="39.0" r="2.3"/><circle cx="334.6" cy="73.9" r="2.9"/><circle cx="250.1" cy="58.1" r="2.3"/><circle cx="348.8" cy="62.7" r="2.6"/><circle cx="270.0" cy="102.7" r="4.3"/><circle cx="262.6" cy="16.5" r="2.3"/><circle cx="323.6" cy="88.8" r="3.8"/><circle cx="358.8" cy="142.3" r="2.9"/><circle cx="313.3" cy="112.9" r="3.3"/><circle cx="286.0" cy="147.5" r="2.6"/><circle cx="255.6" cy="72.7" r="3.5"/><circle cx="241.9" cy="95.8" r="3.8"/><circle cx="241.9" cy="105.9" r="2.3"/><circle cx="263.2" cy="29.3" r="3.3"/><circle cx="337.6" cy="42.1" r="2.3"/><circle cx="239.0" cy="114.8" r="3.8"/><circle cx="364.0" cy="14.4" r="3.5"/><circle cx="309.9" cy="32.2" r="3.1"/><circle cx="247.8" cy="25.7" r="2.6"/><circle cx="342.8" cy="105.6" r="3.8"/><circle cx="257.8" cy="60.2" r="2.6"/><circle cx="359.6" cy="56.6" r="2.6"/><circle cx="243.7" cy="56.5" r="4.3"/><circle cx="264.2" cy="65.2" r="2.3"/><circle cx="355.2" cy="80.0" r="3.5"/><circle cx="351.4" cy="50.1" r="2.9"/><circle cx="240.5" cy="36.2" r="2.6"/><circle cx="333.6" cy="16.8" r="3.8"/><circle cx="334.0" cy="68.9" r="2.3"/><circle cx="239.2" cy="138.4" r="3.3"/><circle cx="245.5" cy="34.0" r="3.5"/><circle cx="283.6" cy="15.6" r="3.5"/><circle cx="255.4" cy="145.5" r="2.6"/><circle cx="349.6" cy="88.4" r="2.3"/><circle cx="358.4" cy="133.3" r="2.3"/><circle cx="372.3" cy="89.8" r="2.3"/><circle cx="261.7" cy="102.0" r="4.3"/><circle cx="351.2" cy="36.7" r="3.1"/><circle cx="262.0" cy="144.5" r="3.5"/><circle cx="299.2" cy="20.7" r="2.9"/><circle cx="330.1" cy="116.3" r="3.5"/><circle cx="257.1" cy="152.9" r="2.3"/><circle cx="305.7" cy="138.2" r="2.6"/><circle cx="354.8" cy="89.1" r="3.8"/><circle cx="303.1" cy="78.9" r="3.1"/><circle cx="340.0" cy="49.2" r="2.6"/><circle cx="240.8" cy="132.0" r="2.9"/><circle cx="363.9" cy="53.3" r="2.9"/><circle cx="268.9" cy="125.1" r="3.8"/><circle cx="244.6" cy="119.0" r="2.9"/><circle cx="291.1" cy="37.7" r="2.3"/><circle cx="357.8" cy="29.3" r="2.6"/><circle cx="341.4" cy="94.4" r="2.9"/><circle cx="301.4" cy="93.6" r="2.3"/><circle cx="326.7" cy="54.7" r="3.8"/><circle cx="343.4" cy="67.5" r="3.3"/><circle cx="285.1" cy="95.1" r="3.1"/><circle cx="241.0" cy="73.2" r="2.9"/><circle cx="238.1" cy="124.2" r="2.3"/><circle cx="254.9" cy="66.3" r="3.5"/><circle cx="356.9" cy="50.7" r="2.3"/><circle cx="279.3" cy="99.6" r="2.3"/><circle cx="260.5" cy="94.9" r="2.3"/><circle cx="365.8" cy="41.1" r="2.3"/><circle cx="273.2" cy="66.1" r="3.1"/><circle cx="282.8" cy="79.0" r="5.0"/><circle cx="346.0" cy="111.0" r="3.1"/><circle cx="313.2" cy="67.3" r="3.1"/><circle cx="291.6" cy="164.7" r="2.9"/><circle cx="238.6" cy="161.2" r="4.3"/><circle cx="240.0" cy="145.6" r="4.3"/><circle cx="246.6" cy="135.4" r="3.1"/><circle cx="254.4" cy="119.5" r="2.6"/><circle cx="363.8" cy="160.3" r="3.5"/><circle cx="367.3" cy="22.4" r="2.6"/><circle cx="315.0" cy="151.1" r="3.5"/><circle cx="344.8" cy="117.2" r="2.9"/><circle cx="316.0" cy="86.4" r="2.3"/><circle cx="324.4" cy="24.2" r="2.6"/><circle cx="308.5" cy="152.9" r="3.3"/><circle cx="286.0" cy="113.7" r="2.3"/><circle cx="355.0" cy="24.2" r="2.3"/><circle cx="312.3" cy="127.0" r="2.6"/><circle cx="302.8" cy="85.1" r="2.6"/><circle cx="369.9" cy="75.3" r="2.9"/><circle cx="307.3" cy="124.0" r="2.3"/><circle cx="317.5" cy="118.7" r="2.6"/><circle cx="350.4" cy="78.0" r="2.3"/><circle cx="276.1" cy="152.4" r="2.9"/><circle cx="300.1" cy="14.4" r="2.9"/><circle cx="310.4" cy="48.4" r="2.3"/><circle cx="320.8" cy="153.6" r="2.3"/><circle cx="315.4" cy="58.4" r="2.6"/><circle cx="258.0" cy="22.2" r="2.6"/><circle cx="313.8" cy="137.9" r="3.1"/><circle cx="243.7" cy="77.3" r="2.3"/><circle cx="368.4" cy="155.2" r="3.8"/><circle cx="364.1" cy="121.9" r="2.3"/><circle cx="374.8" cy="126.6" r="2.9"/><circle cx="252.3" cy="126.1" r="2.3"/><circle cx="296.6" cy="95.6" r="3.3"/><circle cx="266.5" cy="77.9" r="2.3"/><circle cx="340.2" cy="74.0" r="3.1"/><circle cx="303.1" cy="62.8" r="2.9"/><circle cx="238.5" cy="29.7" r="4.3"/><circle cx="288.9" cy="123.4" r="2.3"/><circle cx="351.5" cy="27.7" r="2.9"/><circle cx="325.9" cy="112.9" r="2.6"/><circle cx="330.9" cy="35.3" r="3.5"/><circle cx="373.2" cy="80.4" r="2.6"/><circle cx="274.6" cy="45.0" r="2.3"/><circle cx="305.3" cy="66.7" r="2.3"/><circle cx="325.6" cy="95.4" r="3.1"/><circle cx="343.5" cy="46.5" r="2.6"/><circle cx="324.2" cy="119.5" r="3.5"/><circle cx="255.5" cy="38.3" r="3.1"/><circle cx="267.3" cy="34.5" r="2.6"/><circle cx="321.8" cy="145.7" r="2.3"/><circle cx="289.8" cy="152.6" r="2.3"/><circle cx="365.2" cy="89.1" r="2.6"/><circle cx="305.7" cy="74.2" r="2.6"/><circle cx="365.9" cy="99.4" r="2.3"/><circle cx="279.1" cy="35.0" r="2.3"/><circle cx="243.3" cy="23.9" r="2.6"/><circle cx="370.5" cy="148.4" r="2.3"/><circle cx="243.5" cy="156.5" r="2.3"/><circle cx="339.8" cy="24.7" r="3.1"/><circle cx="314.0" cy="44.9" r="2.3"/><circle cx="315.9" cy="93.7" r="2.9"/><circle cx="337.3" cy="110.1" r="2.3"/><circle cx="336.7" cy="64.3" r="2.3"/><circle cx="284.3" cy="164.9" r="2.3"/><circle cx="276.7" cy="157.4" r="3.1"/><circle cx="297.8" cy="64.0" r="3.5"/><circle cx="344.4" cy="135.6" r="2.9"/><circle cx="269.1" cy="68.3" r="2.3"/><circle cx="318.6" cy="23.1" r="3.3"/><circle cx="330.1" cy="121.5" r="2.3"/><circle cx="302.4" cy="30.1" r="3.1"/><circle cx="359.5" cy="67.8" r="2.6"/><circle cx="321.1" cy="74.2" r="3.1"/><circle cx="353.8" cy="74.3" r="3.1"/><circle cx="251.0" cy="109.1" r="2.3"/><circle cx="249.9" cy="87.1" r="2.3"/><circle cx="374.3" cy="115.9" r="2.3"/><circle cx="292.4" cy="52.0" r="3.3"/><circle cx="253.8" cy="80.0" r="2.3"/><circle cx="278.5" cy="94.6" r="3.1"/><circle cx="258.8" cy="48.6" r="2.3"/><circle cx="349.5" cy="162.8" r="2.6"/><circle cx="269.9" cy="80.2" r="2.6"/><circle cx="319.2" cy="43.8" r="2.3"/><circle cx="352.3" cy="107.2" r="2.6"/><circle cx="350.3" cy="123.8" r="2.3"/><circle cx="273.2" cy="23.7" r="2.3"/><circle cx="279.4" cy="70.5" r="3.3"/><circle cx="285.2" cy="129.3" r="2.3"/><circle cx="256.4" cy="114.7" r="2.6"/><circle cx="245.3" cy="165.5" r="2.9"/><circle cx="315.4" cy="32.2" r="2.6"/><circle cx="319.6" cy="114.1" r="3.1"/><circle cx="297.6" cy="142.4" r="2.6"/><circle cx="324.1" cy="70.2" r="2.6"/><circle cx="273.7" cy="129.8" r="2.6"/><circle cx="331.0" cy="110.2" r="2.6"/><circle cx="326.6" cy="164.9" r="2.9"/><circle cx="271.5" cy="38.4" r="2.3"/><circle cx="294.3" cy="110.8" r="3.5"/><circle cx="318.0" cy="14.4" r="2.3"/><circle cx="241.8" cy="43.1" r="2.3"/><circle cx="238.9" cy="101.5" r="2.6"/><circle cx="352.3" cy="44.0" r="2.6"/><circle cx="258.0" cy="77.8" r="2.6"/><circle cx="277.0" cy="165.9" r="2.6"/><circle cx="374.7" cy="94.9" r="2.3"/><circle cx="361.9" cy="136.4" r="2.9"/><circle cx="318.6" cy="157.4" r="2.3"/><circle cx="339.7" cy="79.2" r="2.9"/><circle cx="355.6" cy="35.5" r="2.3"/><circle cx="246.7" cy="17.7" r="2.3"/><circle cx="254.0" cy="28.0" r="2.3"/><circle cx="275.6" cy="73.6" r="2.3"/><circle cx="311.0" cy="72.0" r="2.6"/><circle cx="275.6" cy="162.0" r="2.3"/><circle cx="283.4" cy="117.5" r="2.3"/><circle cx="282.4" cy="51.3" r="2.3"/><circle cx="365.1" cy="105.7" r="2.6"/><circle cx="238.4" cy="61.2" r="2.9"/><circle cx="294.9" cy="133.8" r="3.3"/><circle cx="342.3" cy="31.3" r="2.3"/><circle cx="367.8" cy="118.0" r="3.8"/><circle cx="276.9" cy="122.7" r="2.6"/><circle cx="374.0" cy="137.8" r="2.3"/><circle cx="347.3" cy="157.4" r="2.3"/><circle cx="304.2" cy="120.6" r="2.3"/><circle cx="335.6" cy="21.6" r="2.3"/><circle cx="306.8" cy="93.6" r="2.3"/><circle cx="312.3" cy="55.3" r="2.6"/><circle cx="309.1" cy="116.9" r="3.1"/><circle cx="246.2" cy="48.5" r="2.6"/><circle cx="263.6" cy="40.2" r="2.3"/><circle cx="351.8" cy="84.4" r="2.6"/><circle cx="345.5" cy="152.7" r="2.3"/><circle cx="248.4" cy="97.3" r="2.6"/><circle cx="375.0" cy="41.8" r="3.8"/><circle cx="335.9" cy="50.6" r="2.3"/><circle cx="361.6" cy="61.6" r="2.3"/><circle cx="360.5" cy="89.7" r="2.6"/><circle cx="254.5" cy="104.2" r="3.3"/><circle cx="356.6" cy="45.9" r="2.6"/><circle cx="363.1" cy="112.6" r="2.9"/><circle cx="269.2" cy="24.1" r="2.3"/><circle cx="256.8" cy="92.4" r="2.6"/><circle cx="249.6" cy="30.5" r="2.6"/><circle cx="282.1" cy="109.9" r="2.3"/><circle cx="238.6" cy="90.3" r="2.6"/><circle cx="363.3" cy="149.7" r="2.3"/><circle cx="316.9" cy="126.5" r="2.9"/><circle cx="278.8" cy="23.9" r="2.3"/><circle cx="273.5" cy="29.4" r="2.3"/><circle cx="343.8" cy="122.4" r="2.6"/><circle cx="358.4" cy="122.4" r="2.3"/><circle cx="267.3" cy="84.2" r="2.9"/><circle cx="374.4" cy="30.1" r="3.3"/><circle cx="347.9" cy="54.8" r="2.3"/><circle cx="250.0" cy="130.4" r="2.3"/><circle cx="354.2" cy="140.1" r="2.6"/><circle cx="344.6" cy="21.3" r="2.3"/><circle cx="316.3" cy="62.5" r="2.3"/><circle cx="256.2" cy="157.2" r="2.6"/><circle cx="362.0" cy="22.6" r="3.3"/><circle cx="284.8" cy="27.9" r="2.3"/><circle cx="301.3" cy="154.2" r="3.8"/><circle cx="323.8" cy="155.8" r="2.3"/><circle cx="356.8" cy="146.7" r="2.3"/><circle cx="282.5" cy="132.4" r="2.3"/><circle cx="243.5" cy="84.1" r="2.3"/><circle cx="292.4" cy="75.9" r="2.3"/><circle cx="291.7" cy="85.8" r="2.3"/><circle cx="260.8" cy="130.4" r="2.3"/><circle cx="373.8" cy="48.9" r="2.3"/><circle cx="342.1" cy="62.8" r="2.3"/><circle cx="315.9" cy="27.3" r="2.3"/><circle cx="309.9" cy="134.2" r="2.6"/><circle cx="282.0" cy="158.4" r="2.3"/><circle cx="255.9" cy="165.5" r="2.6"/><circle cx="337.8" cy="69.4" r="2.3"/><circle cx="264.8" cy="70.6" r="2.3"/><circle cx="284.5" cy="85.6" r="2.6"/><circle cx="288.4" cy="156.6" r="2.6"/><circle cx="246.6" cy="144.9" r="2.9"/><circle cx="275.0" cy="57.6" r="2.3"/><circle cx="262.5" cy="116.5" r="2.3"/><circle cx="328.1" cy="81.3" r="2.3"/><circle cx="357.2" cy="105.3" r="2.6"/><circle cx="276.1" cy="88.8" r="2.3"/><circle cx="238.2" cy="55.0" r="2.3"/><circle cx="357.3" cy="14.4" r="2.6"/><circle cx="370.4" cy="62.8" r="2.3"/><circle cx="335.3" cy="141.7" r="2.6"/><circle cx="332.3" cy="53.9" r="2.6"/><circle cx="287.7" cy="118.3" r="2.3"/><circle cx="347.0" cy="14.3" r="2.3"/><circle cx="248.9" cy="68.2" r="2.3"/><circle cx="257.3" cy="30.9" r="2.3"/><circle cx="258.0" cy="26.2" r="2.3"/><circle cx="297.8" cy="76.4" r="2.3"/><circle cx="323.9" cy="124.9" r="2.3"/><circle cx="338.7" cy="133.7" r="2.3"/><circle cx="290.2" cy="114.6" r="2.6"/><circle cx="269.3" cy="151.3" r="2.3"/><circle cx="320.4" cy="141.2" r="2.9"/><circle cx="315.1" cy="165.8" r="2.3"/><circle cx="241.8" cy="122.9" r="2.3"/><circle cx="309.3" cy="140.7" r="2.3"/><circle cx="262.3" cy="123.1" r="2.3"/><circle cx="323.9" cy="20.1" r="2.3"/><circle cx="239.8" cy="86.0" r="2.3"/><circle cx="264.1" cy="107.4" r="2.3"/><circle cx="374.4" cy="147.8" r="2.6"/><circle cx="320.9" cy="101.0" r="2.9"/><circle cx="244.2" cy="109.4" r="2.6"/><circle cx="265.9" cy="14.7" r="2.3"/><circle cx="279.2" cy="138.7" r="2.6"/><circle cx="340.8" cy="112.6" r="2.3"/><circle cx="374.7" cy="73.9" r="2.6"/><circle cx="252.9" cy="61.1" r="2.3"/><circle cx="356.4" cy="70.5" r="2.3"/><circle cx="252.2" cy="153.2" r="2.6"/><circle cx="288.8" cy="57.5" r="2.3"/><circle cx="336.7" cy="46.4" r="2.3"/><circle cx="316.6" cy="106.2" r="2.3"/><circle cx="305.4" cy="113.0" r="2.6"/><circle cx="279.5" cy="43.8" r="2.3"/><circle cx="293.9" cy="139.3" r="2.3"/><circle cx="353.2" cy="32.0" r="2.3"/><circle cx="288.4" cy="49.0" r="2.3"/><circle cx="294.6" cy="89.4" r="2.9"/><circle cx="249.7" cy="45.4" r="2.3"/><circle cx="342.1" cy="143.0" r="2.6"/><circle cx="275.4" cy="99.1" r="2.3"/><circle cx="274.6" cy="14.8" r="2.6"/><circle cx="326.9" cy="153.8" r="2.3"/></g>
<path d="M261,79 C263,72 275,71 283,75 C288,79 284,88 275,90 C266,91 259,86 261,79 Z" fill="url(#bblob)" stroke="#101a80" stroke-width="0.5"/>
<path d="M288,84 C292,81 298,86 300,93 C302,101 300,107 295,107 C290,106 287,98 287,92 Z" fill="url(#bblob)" stroke="#101a80" stroke-width="0.5"/>
<ellipse cx="284" cy="86.5" rx="5" ry="3.3" transform="rotate(20 284 86.5)" fill="#f4e838" stroke="#a09010" stroke-width="0.4"/>
<path d="M278,117 C283,115 286,119 285,127 C285,134 283,139 279,139 C276,137 275,128 276,122 Z" fill="#f4e838" stroke="#a09010" stroke-width="0.4"/>
<ellipse cx="273" cy="40" rx="2.5" ry="1.6" fill="#f4e838"/>
<path d="M308.0,103.0 C311.5,102.9 315.6,106.3 320.0,109.0 C324.4,111.7 330.7,116.1 334.5,119.0 C338.3,121.9 341.7,123.6 342.8,126.2 C343.9,128.8 342.6,131.1 341.2,134.4 C339.8,137.7 337.0,142.7 334.5,146.0 C332.0,149.3 329.9,152.0 326.3,154.2 C322.7,156.4 317.7,159.5 313.0,159.2 C308.3,158.9 301.6,156.2 298.2,152.6 C294.8,149.0 293.2,142.7 292.4,137.7 C291.6,132.7 292.1,127.5 293.2,122.8 C294.3,118.1 296.5,112.8 299.0,109.5 C301.5,106.2 304.5,103.1 308.0,103.0 Z" fill="url(#mito1)" stroke="#8a4a8a" stroke-width="0.4"/>
<path d="M306,106 C301,118 300,132 304,148" stroke="#b070b4" stroke-width="1.2" fill="none" opacity="0.6"/>
<linearGradient id="mitoT" gradientUnits="userSpaceOnUse" x1="347" y1="77" x2="339" y2="122"><stop offset="0" stop-color="#3a0a40"/><stop offset="0.18" stop-color="#9a5aa2"/><stop offset="0.45" stop-color="#f2aaf2"/><stop offset="0.7" stop-color="#b070b8"/><stop offset="1" stop-color="#3a0a40"/></linearGradient>
<path d="M316.0,104.0 C316.0,100.7 316.7,95.2 318.0,92.0 C319.3,88.8 321.2,87.0 324.0,85.0 C326.8,83.0 331.3,81.1 335.0,80.0 C338.7,78.9 342.2,78.4 346.0,78.2 C349.8,78.0 354.4,78.2 358.0,79.0 C361.6,79.8 365.3,80.8 367.6,83.0 C369.9,85.2 371.6,88.7 372.0,92.0 C372.4,95.3 372.1,99.2 370.0,103.0 C367.9,106.8 363.3,111.8 359.3,114.5 C355.3,117.2 350.1,118.4 346.0,119.5 C341.9,120.6 338.2,121.2 334.5,121.0 C330.8,120.8 326.8,119.5 324.0,118.0 C321.2,116.5 319.3,114.3 318.0,112.0 C316.7,109.7 316.0,107.3 316.0,104.0 Z" fill="url(#mitoT)"/>
<g fill="url(#sph)" stroke="#0c4a7a" stroke-width="0.7"><circle cx="300.0" cy="148.0" r="2.6"/><circle cx="305.0" cy="157.0" r="2.5"/><circle cx="322.0" cy="154.0" r="2.6"/><circle cx="331.0" cy="146.0" r="2.8"/><circle cx="340.0" cy="150.0" r="2.4"/><circle cx="347.0" cy="140.0" r="2.6"/><circle cx="323.0" cy="128.0" r="2.5"/><circle cx="324.0" cy="98.0" r="2.4"/><circle cx="310.0" cy="142.0" r="2.3"/><circle cx="336.0" cy="158.0" r="2.4"/><circle cx="358.0" cy="128.0" r="2.8"/><circle cx="363.0" cy="120.0" r="2.6"/><circle cx="296.0" cy="131.0" r="2.6"/><circle cx="301.0" cy="116.0" r="2.3"/><circle cx="327.0" cy="139.0" r="2.4"/></g>
</g>
<rect x="210.5" y="178.1" width="67.7" height="6.2" fill="#000"/>
<rect x="361.3" y="9.3" width="10" height="9.6" fill="#50ff16" stroke="#3a8a2a" stroke-width="0.8"/>
<text x="375.48" y="19.00" font-size="14.00" fill="#000" textLength="29.51" lengthAdjust="spacingAndGlyphs">GLU</text>
<text x="373.72" y="33.60" font-size="14.30" fill="#000" textLength="50.46" lengthAdjust="spacingAndGlyphs">n = 103</text>
<text x="429.15" y="18.20" font-size="19.50" fill="#000" textLength="14.59" lengthAdjust="spacingAndGlyphs">B</text>
<rect x="474.6" y="8.9" width="9.8" height="10.2" fill="#ff33ff" stroke="#8a2a8a" stroke-width="0.8"/>
<text x="488.37" y="19.30" font-size="14.00" fill="#000" textLength="21.40" lengthAdjust="spacingAndGlyphs">DA</text>
<text x="487.41" y="34.40" font-size="14.30" fill="#000" textLength="50.02" lengthAdjust="spacingAndGlyphs">n = 110</text>
<path d="M492.6,56.3 C498.1,56.4 503.7,57.5 508.0,59.0 C512.3,60.5 515.4,62.5 518.2,65.0 C521.0,67.5 523.5,70.5 525.0,74.0 C526.5,77.5 526.9,81.0 527.0,86.0 C527.1,91.0 527.0,98.2 525.5,104.0 C524.0,109.8 521.6,116.4 518.2,120.7 C514.8,125.0 509.8,127.9 505.0,130.0 C500.2,132.1 495.1,133.7 489.6,133.5 C484.1,133.3 477.0,131.1 472.0,129.0 C467.0,126.9 463.1,124.5 459.5,120.7 C455.9,116.9 452.6,111.3 450.5,106.0 C448.4,100.7 447.2,94.3 447.2,89.0 C447.2,83.7 448.4,78.0 450.5,74.0 C452.6,70.0 455.4,67.6 459.5,65.0 C463.6,62.4 469.5,60.0 475.0,58.5 C480.5,57.0 487.1,56.2 492.6,56.3 Z" fill="#b82cb8" stroke="#6a0a6a" stroke-width="0.9"/>
<path d="M484.9,60.5 C489.4,60.3 494.4,59.9 498.3,61.1 C502.2,62.3 505.8,65.1 508.4,67.7 C511.0,70.3 512.8,73.2 514.0,76.5 C515.2,79.8 515.6,82.7 515.8,87.5 C516.0,92.3 516.2,100.0 515.1,105.1 C514.1,110.2 512.3,114.8 509.5,118.3 C506.7,121.8 502.4,124.5 498.3,126.0 C494.2,127.5 489.5,127.7 484.9,127.3 C480.2,127.0 474.4,126.2 470.3,123.8 C466.2,121.4 462.6,117.0 460.2,112.8 C457.9,108.6 456.7,103.5 456.1,98.5 C455.5,93.5 455.6,87.9 456.4,83.1 C457.3,78.3 458.9,73.3 461.4,69.9 C463.9,66.5 467.5,64.3 471.4,62.8 C475.4,61.2 480.4,60.8 484.9,60.5 Z" fill="#8e1a92"/>
<path d="M500.0,61.5 C502.0,62.2 508.7,63.6 512.0,66.0 C515.3,68.4 518.2,72.0 520.0,76.0 C521.8,80.0 522.8,85.0 523.0,90.0 C523.2,95.0 522.5,101.2 521.0,106.0 C519.5,110.8 516.7,115.5 514.0,119.0 C511.3,122.5 506.5,125.7 505.0,127.0 L507.0,116.0 C507.8,114.0 511.1,108.7 512.0,104.0 C512.9,99.3 512.8,92.3 512.6,88.0 C512.4,83.7 512.1,81.0 511.0,78.0 C509.9,75.0 506.8,71.3 506.0,70.0 Z" fill="#ff3cff"/>
<path d="M485.0,63.5 C489.0,63.2 493.5,62.9 497.0,64.0 C500.5,65.1 503.7,67.7 506.0,70.0 C508.3,72.3 509.9,75.0 511.0,78.0 C512.1,81.0 512.4,83.7 512.6,88.0 C512.8,92.3 512.9,99.3 512.0,104.0 C511.1,108.7 509.5,112.8 507.0,116.0 C504.5,119.2 500.7,121.6 497.0,123.0 C493.3,124.4 489.2,124.5 485.0,124.2 C480.8,123.9 475.7,123.2 472.0,121.0 C468.3,118.8 465.1,114.8 463.0,111.0 C460.9,107.2 459.9,102.5 459.3,98.0 C458.7,93.5 458.8,88.3 459.6,84.0 C460.4,79.7 461.8,75.1 464.0,72.0 C466.2,68.9 469.5,66.9 473.0,65.5 C476.5,64.1 481.0,63.8 485.0,63.5 Z" fill="#fff"/>
<clipPath id="cDA"><path d="M485.0,63.5 C489.0,63.2 493.5,62.9 497.0,64.0 C500.5,65.1 503.7,67.7 506.0,70.0 C508.3,72.3 509.9,75.0 511.0,78.0 C512.1,81.0 512.4,83.7 512.6,88.0 C512.8,92.3 512.9,99.3 512.0,104.0 C511.1,108.7 509.5,112.8 507.0,116.0 C504.5,119.2 500.7,121.6 497.0,123.0 C493.3,124.4 489.2,124.5 485.0,124.2 C480.8,123.9 475.7,123.2 472.0,121.0 C468.3,118.8 465.1,114.8 463.0,111.0 C460.9,107.2 459.9,102.5 459.3,98.0 C458.7,93.5 458.8,88.3 459.6,84.0 C460.4,79.7 461.8,75.1 464.0,72.0 C466.2,68.9 469.5,66.9 473.0,65.5 C476.5,64.1 481.0,63.8 485.0,63.5 Z"/></clipPath>
<g clip-path="url(#cDA)"><g fill="url(#sph)" stroke="#155f8f" stroke-width="0.6"><circle cx="473.4" cy="67.3" r="2.3"/><circle cx="467.4" cy="75.9" r="2.8"/><circle cx="480.3" cy="75.6" r="1.7"/><circle cx="489.6" cy="68.0" r="2.7"/><circle cx="487.8" cy="81.6" r="2.4"/><circle cx="466.8" cy="87.6" r="2.6"/><circle cx="483.6" cy="89.8" r="3.4"/><circle cx="490.8" cy="92.9" r="2.6"/><circle cx="496.4" cy="95.9" r="2.6"/><circle cx="496.8" cy="101.9" r="2.6"/><circle cx="483.9" cy="100.8" r="2.6"/><circle cx="470.8" cy="104.9" r="4.2"/><circle cx="488.4" cy="105.3" r="3.4"/><circle cx="486.9" cy="110.2" r="2.4"/><circle cx="477.6" cy="113.2" r="4.5"/><circle cx="492.6" cy="113.2" r="2.6"/><circle cx="501.7" cy="111.7" r="2.6"/><circle cx="482.9" cy="119.2" r="2.8"/><circle cx="492.3" cy="118.9" r="2.4"/><circle cx="510.7" cy="86.1" r="2.4"/><circle cx="499.4" cy="120.7" r="2.0"/><circle cx="487.4" cy="124.4" r="2.2"/><circle cx="480.0" cy="121.0" r="2.4"/></g></g>
<circle cx="499.8" cy="75.9" r="9.3" fill="url(#bsph)" stroke="#1a2a90" stroke-width="0.8"/>
<rect x="460" y="138" width="63" height="4.3" fill="#000"/>
<circle cx="462.8" cy="167.4" r="3.9" fill="#ee6a2a"/>
<text x="471.68" y="172.20" font-size="14.00" fill="#000" textLength="64.14" lengthAdjust="spacingAndGlyphs">DA PSE+</text>
<text x="476.30" y="187.90" font-size="14.30" fill="#000" textLength="34.49" lengthAdjust="spacingAndGlyphs">n = 2</text>
<g clip-path="url(#cB)">
<rect x="552" y="41" width="133" height="121" fill="#b0b0b0"/>
<path d="M640,41 C660,50 672,70 675,90 L685,92 L685,41 Z" fill="#9a9a9a" stroke="#3a3a3a" stroke-width="0.9"/>
<path d="M552,52 C575,48 610,44 640,42 L650,41 L552,41 Z" fill="#9c9c9c"/>
<path d="M590,53 C610,47 625,45 642,44" stroke="#3a3a3a" stroke-width="0.9" fill="none"/>
<path d="M634,162 C640,140 660,124 685,118 L685,162 Z" fill="#8a8a8a" stroke="#333" stroke-width="1"/>
<path d="M668,95 C676,100 680,110 685,112 L685,92 Z" fill="#9a9a9a"/>
<path d="M614,50.5 C645,50 667,70 667,98 C667,125 645,150 614,150 C585,150 563,128 563,102 C563,72 585,51 614,50.5 Z" fill="#8e8e8e" stroke="#262626" stroke-width="1.3"/>
<ellipse cx="612" cy="103" rx="30" ry="28" fill="#828282" filter="url(#bl4)" opacity="0.7"/>
<circle cx="633.6" cy="77" r="12" fill="#909090" stroke="#333" stroke-width="1"/>
<circle cx="630" cy="84" r="3" fill="#8a8a8a" stroke="#444" stroke-width="0.7"/>
<circle cx="601.6" cy="61.6" r="3" fill="#8c8c8c" stroke="#3a3a3a" stroke-width="0.9"/>
<circle cx="655.4" cy="92.6" r="3.4" fill="#8c8c8c" stroke="#3a3a3a" stroke-width="0.9"/>
<circle cx="591" cy="109" r="5.5" fill="#8c8c8c" stroke="#3a3a3a" stroke-width="0.9"/>
<circle cx="625.6" cy="109.4" r="3.8" fill="#8c8c8c" stroke="#3a3a3a" stroke-width="0.9"/>
<circle cx="611.6" cy="118" r="3.8" fill="#8c8c8c" stroke="#3a3a3a" stroke-width="0.9"/>
<circle cx="622" cy="123.4" r="3" fill="#8c8c8c" stroke="#3a3a3a" stroke-width="0.9"/>
<circle cx="601" cy="140" r="3.8" fill="#8c8c8c" stroke="#3a3a3a" stroke-width="0.9"/>
<circle cx="636" cy="72" r="2.2" fill="#8c8c8c" stroke="#3a3a3a" stroke-width="0.9"/>
<rect x="552" y="41" width="133" height="121" filter="url(#nzB)" opacity="0.45" style="mix-blend-mode:overlay"/>
</g>
<rect x="552.5" y="41.5" width="133" height="120" fill="none" stroke="#3c3c3c" stroke-width="1"/>
<rect x="603.2" y="153.2" width="75.7" height="5" fill="#fff"/>
<text x="554.20" y="59.40" font-size="21.00" fill="#ff33ff" font-weight="bold" textLength="33.38" lengthAdjust="spacingAndGlyphs">DA</text>
<path d="M648.2,36.9 L654.5,39.3 L646.7,58.3 L651.2,60.4 L640.3,64.9 L636.1,54.7 L640.9,55.6 Z" fill="#1a1aff" stroke="#000" stroke-width="0.9" stroke-linejoin="miter"/>
<clipPath id="cg439"><rect x="29" y="441.9" width="140.5" height="68.5"/></clipPath>
<g clip-path="url(#cg439)">
<rect x="29" y="439.9" width="141" height="72.5" fill="#a8a8a8"/>
<rect x="29" y="439.9" width="141" height="72.5" filter="url(#nzG)"/>
<circle cx="78.6" cy="463.2" r="7" fill="#c4c4c4" fill-opacity="0.45" stroke="#e8e8e8" stroke-width="3.2" stroke-opacity="0.5"/>
<circle cx="78.6" cy="463.2" r="7" fill="none" stroke="#141414" stroke-width="2.1" opacity="0.9"/>
<circle cx="134.5" cy="456.6" r="7" fill="#c4c4c4" fill-opacity="0.45" stroke="#e8e8e8" stroke-width="3.1" stroke-opacity="0.5"/>
<circle cx="134.5" cy="456.6" r="7" fill="none" stroke="#141414" stroke-width="2.0" opacity="0.9"/>
<circle cx="121.3" cy="482.9" r="7" fill="#c4c4c4" fill-opacity="0.45" stroke="#e8e8e8" stroke-width="3.2" stroke-opacity="0.5"/>
<circle cx="121.3" cy="482.9" r="7" fill="none" stroke="#141414" stroke-width="2.1" opacity="0.9"/>
<circle cx="166" cy="453" r="7" fill="#c4c4c4" fill-opacity="0.45" stroke="#e8e8e8" stroke-width="3.0" stroke-opacity="0.5"/>
<circle cx="166" cy="453" r="7" fill="none" stroke="#141414" stroke-width="1.9" opacity="0.9"/>
</g>
<rect x="28.3" y="441.0" width="142.2" height="70.3" fill="none" stroke="#50ff16" stroke-width="2.2"/>
<rect x="30.8" y="501.6" width="44.4" height="5.8" fill="#fff"/>
<path d="M37,441 C48,460 62,480 86,506" stroke="#111" stroke-width="1.6" fill="none"/>
<clipPath id="cg517"><rect x="29" y="519.0" width="140.5" height="64.5"/></clipPath>
<g clip-path="url(#cg517)">
<rect x="29" y="517.0" width="141" height="68.5" fill="#a8a8a8"/>
<rect x="29" y="517.0" width="141" height="68.5" filter="url(#nzG2)"/>
<circle cx="61.1" cy="543.7" r="6.5" fill="#c4c4c4" fill-opacity="0.45" stroke="#e8e8e8" stroke-width="3.5" stroke-opacity="0.5"/>
<circle cx="61.1" cy="543.7" r="6.5" fill="none" stroke="#141414" stroke-width="2.4" opacity="0.9"/>
<circle cx="84.1" cy="538.2" r="6.5" fill="#c4c4c4" fill-opacity="0.45" stroke="#e8e8e8" stroke-width="3.5" stroke-opacity="0.5"/>
<circle cx="84.1" cy="538.2" r="6.5" fill="none" stroke="#141414" stroke-width="2.4" opacity="0.9"/>
<circle cx="65.5" cy="562.3" r="6.5" fill="#c4c4c4" fill-opacity="0.45" stroke="#e8e8e8" stroke-width="3.5" stroke-opacity="0.5"/>
<circle cx="65.5" cy="562.3" r="6.5" fill="none" stroke="#141414" stroke-width="2.4" opacity="0.9"/>
<circle cx="81.9" cy="557.9" r="6.5" fill="#c4c4c4" fill-opacity="0.45" stroke="#e8e8e8" stroke-width="3.5" stroke-opacity="0.5"/>
<circle cx="81.9" cy="557.9" r="6.5" fill="none" stroke="#141414" stroke-width="2.4" opacity="0.9"/>
<circle cx="117" cy="541.5" r="6" fill="#c4c4c4" fill-opacity="0.45" stroke="#e8e8e8" stroke-width="3.0" stroke-opacity="0.5"/>
<circle cx="117" cy="541.5" r="6" fill="none" stroke="#141414" stroke-width="1.9" opacity="0.9"/>
<circle cx="136.7" cy="543.7" r="6" fill="#c4c4c4" fill-opacity="0.45" stroke="#e8e8e8" stroke-width="3.2" stroke-opacity="0.5"/>
<circle cx="136.7" cy="543.7" r="6" fill="none" stroke="#141414" stroke-width="2.1" opacity="0.9"/>
<circle cx="117" cy="565.6" r="6" fill="#c4c4c4" fill-opacity="0.45" stroke="#e8e8e8" stroke-width="3.0" stroke-opacity="0.5"/>
<circle cx="117" cy="565.6" r="6" fill="none" stroke="#141414" stroke-width="1.9" opacity="0.9"/>
<circle cx="141" cy="570" r="6" fill="#c4c4c4" fill-opacity="0.45" stroke="#e8e8e8" stroke-width="3.2" stroke-opacity="0.5"/>
<circle cx="141" cy="570" r="6" fill="none" stroke="#141414" stroke-width="2.1" opacity="0.9"/>
<circle cx="160.8" cy="565.6" r="6" fill="#c4c4c4" fill-opacity="0.45" stroke="#e8e8e8" stroke-width="3.1" stroke-opacity="0.5"/>
<circle cx="160.8" cy="565.6" r="6" fill="none" stroke="#141414" stroke-width="2.0" opacity="0.9"/>
<circle cx="42.5" cy="534.9" r="5" fill="#c4c4c4" fill-opacity="0.45" stroke="#e8e8e8" stroke-width="2.8" stroke-opacity="0.5"/>
<circle cx="42.5" cy="534.9" r="5" fill="none" stroke="#141414" stroke-width="1.7" opacity="0.9"/>
</g>
<rect x="28.3" y="518.1" width="142.2" height="66.3" fill="none" stroke="#f26522" stroke-width="2.2"/>
<rect x="30.8" y="576.4" width="44.4" height="5.8" fill="#fff"/>
<clipPath id="cg589"><rect x="29" y="591.3" width="140.5" height="68.4"/></clipPath>
<g clip-path="url(#cg589)">
<rect x="29" y="589.3" width="141" height="72.4" fill="#a8a8a8"/>
<rect x="29" y="589.3" width="141" height="72.4" filter="url(#nzG3)"/>
<circle cx="41.4" cy="603.5" r="6.5" fill="#c4c4c4" fill-opacity="0.45" stroke="#e8e8e8" stroke-width="3.2" stroke-opacity="0.5"/>
<circle cx="41.4" cy="603.5" r="6.5" fill="none" stroke="#141414" stroke-width="2.1" opacity="0.9"/>
<circle cx="73.2" cy="614.4" r="9.5" fill="#c4c4c4" fill-opacity="0.45" stroke="#e8e8e8" stroke-width="3.4000000000000004" stroke-opacity="0.5"/>
<circle cx="73.2" cy="614.4" r="9.5" fill="none" stroke="#141414" stroke-width="2.3" opacity="0.9"/>
<circle cx="120.5" cy="624.5" r="14" fill="#c4c4c4" fill-opacity="0.45" stroke="#e8e8e8" stroke-width="3.7" stroke-opacity="0.5"/>
<circle cx="120.5" cy="624.5" r="14" fill="none" stroke="#141414" stroke-width="2.6" opacity="0.9"/>
</g>
<rect x="28.3" y="590.4" width="142.2" height="70.2" fill="none" stroke="#ff33ff" stroke-width="2.2"/>
<rect x="30.8" y="652.2" width="44.4" height="5.8" fill="#fff"/>
<rect x="146" y="644" width="5" height="12" transform="rotate(35 148.5 650)" fill="none" stroke="#222" stroke-width="1.4"/>
<text x="-0.35" y="225.20" font-size="21.70" fill="#000" textLength="15.13" lengthAdjust="spacingAndGlyphs">C</text>
<text x="161.18" y="224.80" font-size="21.70" fill="#000" textLength="15.54" lengthAdjust="spacingAndGlyphs">D</text>
<text x="333.37" y="225.00" font-size="21.50" fill="#000" textLength="13.59" lengthAdjust="spacingAndGlyphs">E</text>
<text x="507.33" y="224.90" font-size="21.50" fill="#000" textLength="12.72" lengthAdjust="spacingAndGlyphs">F</text>
<text x="0.02" y="456.50" font-size="21.30" fill="#000" textLength="16.86" lengthAdjust="spacingAndGlyphs">G</text>
<text x="179.14" y="456.60" font-size="21.20" fill="#000" textLength="15.86" lengthAdjust="spacingAndGlyphs">H</text>
<text x="458.91" y="456.50" font-size="21.70" fill="#000" textLength="6.14" lengthAdjust="spacingAndGlyphs">I</text>
<g stroke="#111" stroke-width="1.4" fill="none">
<path d="M48.4,236.9 V422.4 M41.4,422.4 H156.8"/>
<path d="M41.6,422.4 H48.4"/>
<path d="M41.6,376.2 H48.4"/>
<path d="M41.6,329.9 H48.4"/>
<path d="M41.6,283.7 H48.4"/>
<path d="M41.6,237.5 H48.4"/>
<path d="M44.6,399.3 H48.4"/>
<path d="M44.6,353.1 H48.4"/>
<path d="M44.6,306.8 H48.4"/>
<path d="M44.6,260.6 H48.4"/>
</g>
<text x="34.96" y="426.70" font-size="12.30" fill="#000" textLength="5.61" lengthAdjust="spacingAndGlyphs">0</text>
<text x="23.76" y="380.48" font-size="12.30" fill="#000" textLength="16.83" lengthAdjust="spacingAndGlyphs">400</text>
<text x="23.76" y="334.25" font-size="12.30" fill="#000" textLength="16.83" lengthAdjust="spacingAndGlyphs">800</text>
<text x="18.11" y="288.03" font-size="12.30" fill="#000" textLength="22.44" lengthAdjust="spacingAndGlyphs">1200</text>
<text x="18.11" y="241.81" font-size="12.30" fill="#000" textLength="22.44" lengthAdjust="spacingAndGlyphs">1600</text>
<rect x="65.2" y="328.6" width="33.1" height="93.8" fill="#50ff16" stroke="#2a2a2a" stroke-width="0.7"/>
<path d="M79.2,335.4h1.5v1.5h-1.5zM82.7,329.6h1.5v1.5h-1.5zM79.2,308.8h1.5v1.5h-1.5zM82.7,334.7h1.5v1.5h-1.5zM79.2,332.4h1.5v1.5h-1.5zM79.2,328.2h1.5v1.5h-1.5zM82.7,354.0h1.5v1.5h-1.5zM75.7,332.1h1.5v1.5h-1.5zM82.7,326.1h1.5v1.5h-1.5zM82.7,318.0h1.5v1.5h-1.5zM86.2,363.5h1.5v1.5h-1.5zM82.7,344.8h1.5v1.5h-1.5zM82.7,363.9h1.5v1.5h-1.5zM79.2,317.1h1.5v1.5h-1.5zM79.2,323.1h1.5v1.5h-1.5zM82.7,371.3h1.5v1.5h-1.5zM82.7,301.4h1.5v1.5h-1.5zM82.7,304.2h1.5v1.5h-1.5zM75.7,325.0h1.5v1.5h-1.5zM86.2,326.8h1.5v1.5h-1.5zM75.7,356.6h1.5v1.5h-1.5zM79.2,377.6h1.5v1.5h-1.5zM86.2,331.3h1.5v1.5h-1.5zM82.7,368.3h1.5v1.5h-1.5zM79.2,353.5h1.5v1.5h-1.5zM79.2,349.3h1.5v1.5h-1.5zM79.2,373.7h1.5v1.5h-1.5zM75.7,334.8h1.5v1.5h-1.5zM72.2,336.1h1.5v1.5h-1.5zM82.7,315.0h1.5v1.5h-1.5zM89.7,331.8h1.5v1.5h-1.5zM89.7,325.6h1.5v1.5h-1.5zM72.2,332.8h1.5v1.5h-1.5zM72.2,324.6h1.5v1.5h-1.5zM86.2,335.1h1.5v1.5h-1.5zM79.2,346.6h1.5v1.5h-1.5zM82.7,297.0h1.5v1.5h-1.5zM86.2,297.9h1.5v1.5h-1.5zM75.7,315.2h1.5v1.5h-1.5zM82.7,322.5h1.5v1.5h-1.5zM86.2,343.9h1.5v1.5h-1.5zM82.7,350.2h1.5v1.5h-1.5zM72.2,345.8h1.5v1.5h-1.5zM79.2,366.7h1.5v1.5h-1.5zM86.2,319.5h1.5v1.5h-1.5zM82.7,338.5h1.5v1.5h-1.5zM86.2,314.8h1.5v1.5h-1.5zM79.2,339.3h1.5v1.5h-1.5zM79.2,305.1h1.5v1.5h-1.5zM72.2,314.7h1.5v1.5h-1.5zM79.2,385.2h1.5v1.5h-1.5zM75.7,351.9h1.5v1.5h-1.5zM82.7,310.0h1.5v1.5h-1.5zM89.7,334.4h1.5v1.5h-1.5zM79.2,301.8h1.5v1.5h-1.5zM75.7,338.7h1.5v1.5h-1.5zM75.7,366.3h1.5v1.5h-1.5zM86.2,326.2h1.5v1.5h-1.5zM75.7,318.9h1.5v1.5h-1.5zM75.7,347.2h1.5v1.5h-1.5zM72.2,364.4h1.5v1.5h-1.5zM75.7,342.8h1.5v1.5h-1.5zM86.2,304.3h1.5v1.5h-1.5zM79.2,320.0h1.5v1.5h-1.5zM79.2,360.7h1.5v1.5h-1.5zM86.2,348.9h1.5v1.5h-1.5zM75.7,362.6h1.5v1.5h-1.5zM86.2,368.2h1.5v1.5h-1.5zM89.7,317.8h1.5v1.5h-1.5zM86.2,354.7h1.5v1.5h-1.5zM72.2,329.7h1.5v1.5h-1.5zM86.2,335.7h1.5v1.5h-1.5zM72.2,353.5h1.5v1.5h-1.5zM89.7,321.3h1.5v1.5h-1.5zM82.7,359.2h1.5v1.5h-1.5zM72.2,325.5h1.5v1.5h-1.5zM86.2,360.8h1.5v1.5h-1.5zM89.7,337.3h1.5v1.5h-1.5zM86.2,351.6h1.5v1.5h-1.5zM89.7,347.2h1.5v1.5h-1.5zM75.7,303.3h1.5v1.5h-1.5zM72.2,317.4h1.5v1.5h-1.5zM75.7,344.7h1.5v1.5h-1.5zM79.2,312.1h1.5v1.5h-1.5zM89.7,351.8h1.5v1.5h-1.5zM86.2,338.8h1.5v1.5h-1.5zM89.7,314.3h1.5v1.5h-1.5zM82.7,325.6h1.5v1.5h-1.5zM89.7,362.7h1.5v1.5h-1.5zM75.7,299.9h1.5v1.5h-1.5zM72.2,351.6h1.5v1.5h-1.5zM75.7,348.0h1.5v1.5h-1.5zM82.7,319.2h1.5v1.5h-1.5zM79.2,343.0h1.5v1.5h-1.5zM75.7,345.3h1.5v1.5h-1.5zM82.7,241.4h1.5v1.5h-1.5zM75.7,261.0h1.5v1.5h-1.5zM82.7,263.3h1.5v1.5h-1.5zM82.7,271.4h1.5v1.5h-1.5zM82.7,277.2h1.5v1.5h-1.5zM79.2,278.4h1.5v1.5h-1.5zM82.7,285.3h1.5v1.5h-1.5zM79.2,288.8h1.5v1.5h-1.5z" fill="#000"/>
<path d="M81.8,357.7 V298.7 M73.5,357.7 h16.5 M73.5,298.7 h16.5" stroke="#111" stroke-width="1.3" fill="none"/>
<rect x="115.4" y="356.5" width="33.2" height="65.9" fill="#ff33ff" stroke="#2a2a2a" stroke-width="0.7"/>
<path d="M129.5,382.1h1.5v1.5h-1.5zM133.0,380.7h1.5v1.5h-1.5zM133.0,358.3h1.5v1.5h-1.5zM133.0,371.5h1.5v1.5h-1.5zM129.5,357.6h1.5v1.5h-1.5zM129.5,365.9h1.5v1.5h-1.5zM133.0,362.9h1.5v1.5h-1.5zM129.5,336.7h1.5v1.5h-1.5zM129.5,361.8h1.5v1.5h-1.5zM126.0,358.6h1.5v1.5h-1.5zM133.0,344.7h1.5v1.5h-1.5zM129.5,374.6h1.5v1.5h-1.5zM133.0,376.3h1.5v1.5h-1.5zM133.0,341.6h1.5v1.5h-1.5zM133.0,347.6h1.5v1.5h-1.5zM129.5,371.2h1.5v1.5h-1.5zM126.0,374.2h1.5v1.5h-1.5zM129.5,351.7h1.5v1.5h-1.5zM133.0,338.8h1.5v1.5h-1.5zM136.5,373.9h1.5v1.5h-1.5zM126.0,337.7h1.5v1.5h-1.5zM129.5,343.6h1.5v1.5h-1.5zM136.5,357.5h1.5v1.5h-1.5zM136.5,364.0h1.5v1.5h-1.5zM136.5,379.7h1.5v1.5h-1.5zM129.5,385.7h1.5v1.5h-1.5zM136.5,336.3h1.5v1.5h-1.5zM122.5,371.7h1.5v1.5h-1.5zM136.5,353.3h1.5v1.5h-1.5zM136.5,370.8h1.5v1.5h-1.5zM126.0,347.3h1.5v1.5h-1.5zM122.5,357.8h1.5v1.5h-1.5zM126.0,369.2h1.5v1.5h-1.5zM140.0,375.0h1.5v1.5h-1.5zM133.0,352.6h1.5v1.5h-1.5zM136.5,382.5h1.5v1.5h-1.5zM140.0,372.2h1.5v1.5h-1.5zM140.0,359.2h1.5v1.5h-1.5zM136.5,345.6h1.5v1.5h-1.5zM136.5,357.1h1.5v1.5h-1.5zM136.5,369.8h1.5v1.5h-1.5zM129.5,340.9h1.5v1.5h-1.5zM140.0,373.5h1.5v1.5h-1.5zM133.0,388.9h1.5v1.5h-1.5zM140.0,370.3h1.5v1.5h-1.5zM126.0,363.2h1.5v1.5h-1.5zM126.0,383.3h1.5v1.5h-1.5zM122.5,375.0h1.5v1.5h-1.5zM133.0,366.0h1.5v1.5h-1.5zM133.0,358.7h1.5v1.5h-1.5zM129.5,377.7h1.5v1.5h-1.5zM126.0,366.3h1.5v1.5h-1.5zM136.5,342.9h1.5v1.5h-1.5zM129.5,333.7h1.5v1.5h-1.5zM133.0,355.4h1.5v1.5h-1.5zM126.0,353.9h1.5v1.5h-1.5zM140.0,358.2h1.5v1.5h-1.5zM126.0,377.2h1.5v1.5h-1.5zM126.0,386.1h1.5v1.5h-1.5zM129.5,388.7h1.5v1.5h-1.5zM126.0,341.5h1.5v1.5h-1.5zM140.0,353.5h1.5v1.5h-1.5zM140.0,336.3h1.5v1.5h-1.5zM136.5,388.1h1.5v1.5h-1.5zM122.5,356.2h1.5v1.5h-1.5zM122.5,361.9h1.5v1.5h-1.5zM122.5,352.1h1.5v1.5h-1.5zM122.5,368.1h1.5v1.5h-1.5zM133.0,328.1h1.5v1.5h-1.5zM122.5,382.0h1.5v1.5h-1.5zM136.5,359.6h1.5v1.5h-1.5zM126.0,351.8h1.5v1.5h-1.5zM140.0,342.2h1.5v1.5h-1.5zM122.5,351.8h1.5v1.5h-1.5zM140.0,353.4h1.5v1.5h-1.5zM129.5,349.0h1.5v1.5h-1.5zM122.5,341.1h1.5v1.5h-1.5zM136.5,366.7h1.5v1.5h-1.5zM129.5,354.2h1.5v1.5h-1.5zM126.0,342.2h1.5v1.5h-1.5zM122.5,344.3h1.5v1.5h-1.5zM140.0,364.2h1.5v1.5h-1.5zM136.5,349.1h1.5v1.5h-1.5zM140.0,344.9h1.5v1.5h-1.5zM140.0,358.7h1.5v1.5h-1.5zM136.5,356.7h1.5v1.5h-1.5zM133.0,365.5h1.5v1.5h-1.5zM136.5,358.3h1.5v1.5h-1.5zM129.5,357.3h1.5v1.5h-1.5zM140.0,381.5h1.5v1.5h-1.5zM129.5,356.1h1.5v1.5h-1.5zM133.0,330.9h1.5v1.5h-1.5zM126.0,343.7h1.5v1.5h-1.5zM140.0,352.2h1.5v1.5h-1.5zM122.5,365.3h1.5v1.5h-1.5zM133.0,351.9h1.5v1.5h-1.5zM136.5,358.4h1.5v1.5h-1.5zM122.5,363.3h1.5v1.5h-1.5zM129.5,346.4h1.5v1.5h-1.5zM133.0,381.2h1.5v1.5h-1.5zM133.0,351.2h1.5v1.5h-1.5zM140.0,386.8h1.5v1.5h-1.5zM133.0,357.6h1.5v1.5h-1.5zM129.5,361.9h1.5v1.5h-1.5zM133.0,299.2h1.5v1.5h-1.5zM136.5,301.5h1.5v1.5h-1.5zM133.0,310.7h1.5v1.5h-1.5zM133.0,317.6h1.5v1.5h-1.5zM129.5,320.0h1.5v1.5h-1.5zM136.5,322.3h1.5v1.5h-1.5z" fill="#000"/>
<path d="M132.0,377.3 V335.5 M123.8,377.3 h16.5 M123.8,335.5 h16.5" stroke="#111" stroke-width="1.3" fill="none"/>
<circle cx="135.6" cy="298.3" r="3.7" fill="#ee6a2a" stroke="#b04a18" stroke-width="0.5"/>
<circle cx="144.6" cy="369.0" r="3.7" fill="#ee6a2a" stroke="#b04a18" stroke-width="0.5"/>
<path d="M81.2,241.6 H130.8" stroke="#222" stroke-width="1.3"/>
<text x="84.41" y="239.70" font-size="12.20" fill="#000" textLength="42.85" lengthAdjust="spacingAndGlyphs">&lt;0.0001</text>
<text transform="translate(16.10,372.83) rotate(-90)" x="0" y="0" font-size="15.40" fill="#000" textLength="124.74" lengthAdjust="spacingAndGlyphs">Max. Diameter (nm)</text>
<g stroke="#111" stroke-width="1.4" fill="none">
<path d="M215.2,236.6 V422.0 M207.3,422.0 H330.8"/>
<path d="M208.4,422.0 H215.2"/>
<path d="M208.4,360.4 H215.2"/>
<path d="M208.4,298.8 H215.2"/>
<path d="M208.4,237.2 H215.2"/>
</g>
<text x="200.78" y="426.55" font-size="13.00" fill="#000" textLength="6.65" lengthAdjust="spacingAndGlyphs">0</text>
<text x="190.91" y="364.95" font-size="13.00" fill="#000" textLength="16.63" lengthAdjust="spacingAndGlyphs">0.1</text>
<text x="190.97" y="303.35" font-size="13.00" fill="#000" textLength="16.63" lengthAdjust="spacingAndGlyphs">0.2</text>
<text x="190.85" y="241.75" font-size="13.00" fill="#000" textLength="16.63" lengthAdjust="spacingAndGlyphs">0.3</text>
<rect x="232.8" y="365.9" width="34.9" height="56.1" fill="#50ff16" stroke="#2a2a2a" stroke-width="0.7"/>
<path d="M247.7,370.3h1.5v1.5h-1.5zM251.2,409.1h1.5v1.5h-1.5zM247.7,374.5h1.5v1.5h-1.5zM247.7,358.4h1.5v1.5h-1.5zM247.7,384.1h1.5v1.5h-1.5zM247.7,354.2h1.5v1.5h-1.5zM251.2,373.6h1.5v1.5h-1.5zM251.2,382.3h1.5v1.5h-1.5zM251.2,390.0h1.5v1.5h-1.5zM251.2,349.1h1.5v1.5h-1.5zM247.7,389.3h1.5v1.5h-1.5zM251.2,397.5h1.5v1.5h-1.5zM251.2,358.0h1.5v1.5h-1.5zM244.2,388.8h1.5v1.5h-1.5zM244.2,383.3h1.5v1.5h-1.5zM254.7,389.2h1.5v1.5h-1.5zM254.7,415.5h1.5v1.5h-1.5zM254.7,356.3h1.5v1.5h-1.5zM251.2,401.1h1.5v1.5h-1.5zM247.7,399.4h1.5v1.5h-1.5zM251.2,353.4h1.5v1.5h-1.5zM247.7,380.5h1.5v1.5h-1.5zM251.2,362.9h1.5v1.5h-1.5zM240.7,374.0h1.5v1.5h-1.5zM254.7,352.5h1.5v1.5h-1.5zM247.7,406.7h1.5v1.5h-1.5zM244.2,356.2h1.5v1.5h-1.5zM254.7,381.2h1.5v1.5h-1.5zM247.7,361.9h1.5v1.5h-1.5zM247.7,351.5h1.5v1.5h-1.5zM251.2,377.7h1.5v1.5h-1.5zM240.7,358.2h1.5v1.5h-1.5zM251.2,404.7h1.5v1.5h-1.5zM258.2,357.3h1.5v1.5h-1.5zM247.7,396.5h1.5v1.5h-1.5zM244.2,374.2h1.5v1.5h-1.5zM254.7,384.3h1.5v1.5h-1.5zM254.7,372.2h1.5v1.5h-1.5zM247.7,365.2h1.5v1.5h-1.5zM254.7,365.1h1.5v1.5h-1.5zM251.2,394.2h1.5v1.5h-1.5zM258.2,384.1h1.5v1.5h-1.5zM258.2,373.8h1.5v1.5h-1.5zM244.2,379.7h1.5v1.5h-1.5zM254.7,357.2h1.5v1.5h-1.5zM240.7,354.6h1.5v1.5h-1.5zM251.2,367.9h1.5v1.5h-1.5zM240.7,374.0h1.5v1.5h-1.5zM254.7,361.5h1.5v1.5h-1.5zM247.7,341.8h1.5v1.5h-1.5zM244.2,365.0h1.5v1.5h-1.5zM258.2,407.8h1.5v1.5h-1.5zM240.7,363.6h1.5v1.5h-1.5zM254.7,400.2h1.5v1.5h-1.5zM254.7,412.0h1.5v1.5h-1.5zM251.2,338.9h1.5v1.5h-1.5zM240.7,384.7h1.5v1.5h-1.5zM240.7,366.3h1.5v1.5h-1.5zM247.7,348.5h1.5v1.5h-1.5zM244.2,373.5h1.5v1.5h-1.5zM244.2,371.8h1.5v1.5h-1.5zM251.2,413.5h1.5v1.5h-1.5zM244.2,368.3h1.5v1.5h-1.5zM258.2,366.6h1.5v1.5h-1.5zM258.2,357.3h1.5v1.5h-1.5zM244.2,396.6h1.5v1.5h-1.5zM251.2,343.6h1.5v1.5h-1.5zM244.2,408.8h1.5v1.5h-1.5zM258.2,379.4h1.5v1.5h-1.5zM254.7,374.1h1.5v1.5h-1.5zM244.2,399.7h1.5v1.5h-1.5zM244.2,361.1h1.5v1.5h-1.5zM247.7,345.2h1.5v1.5h-1.5zM247.7,377.3h1.5v1.5h-1.5zM258.2,387.9h1.5v1.5h-1.5zM254.7,408.1h1.5v1.5h-1.5zM240.7,365.1h1.5v1.5h-1.5zM244.2,354.8h1.5v1.5h-1.5zM240.7,387.9h1.5v1.5h-1.5zM240.7,396.3h1.5v1.5h-1.5zM251.2,248.8h1.5v1.5h-1.5zM247.7,276.5h1.5v1.5h-1.5zM247.7,282.6h1.5v1.5h-1.5zM251.2,285.7h1.5v1.5h-1.5zM251.2,295.0h1.5v1.5h-1.5zM247.7,304.2h1.5v1.5h-1.5zM251.2,310.4h1.5v1.5h-1.5zM251.2,313.4h1.5v1.5h-1.5zM251.2,316.5h1.5v1.5h-1.5zM254.7,319.6h1.5v1.5h-1.5zM251.2,322.7h1.5v1.5h-1.5zM247.7,323.9h1.5v1.5h-1.5zM251.2,325.8h1.5v1.5h-1.5zM247.7,327.6h1.5v1.5h-1.5zM244.2,328.8h1.5v1.5h-1.5zM251.2,330.1h1.5v1.5h-1.5zM247.7,331.9h1.5v1.5h-1.5zM251.2,333.8h1.5v1.5h-1.5zM247.7,335.0h1.5v1.5h-1.5zM244.2,336.2h1.5v1.5h-1.5zM247.7,338.1h1.5v1.5h-1.5zM254.7,339.9h1.5v1.5h-1.5zM244.2,341.2h1.5v1.5h-1.5z" fill="#000"/>
<path d="M250.2,369.6 V362.2 M242.0,369.6 h16.5 M242.0,362.2 h16.5" stroke="#111" stroke-width="1.3" fill="none"/>
<rect x="285.6" y="397.1" width="35.2" height="24.9" fill="#ff33ff" stroke="#2a2a2a" stroke-width="0.7"/>
<path d="M304.2,394.2h1.5v1.5h-1.5zM304.2,420.2h1.5v1.5h-1.5zM300.7,398.7h1.5v1.5h-1.5zM307.7,397.3h1.5v1.5h-1.5zM300.7,383.8h1.5v1.5h-1.5zM300.7,395.4h1.5v1.5h-1.5zM307.7,418.8h1.5v1.5h-1.5zM300.7,404.5h1.5v1.5h-1.5zM300.7,411.1h1.5v1.5h-1.5zM304.2,387.6h1.5v1.5h-1.5zM304.2,404.9h1.5v1.5h-1.5zM307.7,400.0h1.5v1.5h-1.5zM304.2,413.2h1.5v1.5h-1.5zM304.2,382.3h1.5v1.5h-1.5zM307.7,415.8h1.5v1.5h-1.5zM297.2,405.7h1.5v1.5h-1.5zM304.2,398.6h1.5v1.5h-1.5zM304.2,417.3h1.5v1.5h-1.5zM297.2,397.1h1.5v1.5h-1.5zM297.2,401.1h1.5v1.5h-1.5zM300.7,416.9h1.5v1.5h-1.5zM297.2,380.7h1.5v1.5h-1.5zM311.2,398.8h1.5v1.5h-1.5zM307.7,382.4h1.5v1.5h-1.5zM307.7,394.1h1.5v1.5h-1.5zM293.7,397.6h1.5v1.5h-1.5zM311.2,392.9h1.5v1.5h-1.5zM293.7,401.2h1.5v1.5h-1.5zM304.2,409.4h1.5v1.5h-1.5zM297.2,393.9h1.5v1.5h-1.5zM300.7,390.8h1.5v1.5h-1.5zM307.7,406.7h1.5v1.5h-1.5zM300.7,413.8h1.5v1.5h-1.5zM304.2,401.4h1.5v1.5h-1.5zM300.7,395.3h1.5v1.5h-1.5zM293.7,398.3h1.5v1.5h-1.5zM297.2,412.8h1.5v1.5h-1.5zM293.7,404.5h1.5v1.5h-1.5zM311.2,405.1h1.5v1.5h-1.5zM300.7,420.2h1.5v1.5h-1.5zM311.2,406.2h1.5v1.5h-1.5zM307.7,412.7h1.5v1.5h-1.5zM311.2,406.7h1.5v1.5h-1.5zM297.2,420.2h1.5v1.5h-1.5zM300.7,386.6h1.5v1.5h-1.5zM311.2,395.9h1.5v1.5h-1.5zM300.7,407.7h1.5v1.5h-1.5zM311.2,383.6h1.5v1.5h-1.5zM311.2,418.7h1.5v1.5h-1.5zM311.2,405.2h1.5v1.5h-1.5zM311.2,398.1h1.5v1.5h-1.5zM297.2,388.2h1.5v1.5h-1.5zM293.7,419.6h1.5v1.5h-1.5zM307.7,403.1h1.5v1.5h-1.5zM293.7,397.1h1.5v1.5h-1.5zM293.7,415.2h1.5v1.5h-1.5zM304.2,404.0h1.5v1.5h-1.5zM297.2,397.8h1.5v1.5h-1.5zM293.7,417.8h1.5v1.5h-1.5zM300.7,401.7h1.5v1.5h-1.5zM307.7,388.7h1.5v1.5h-1.5zM307.7,396.6h1.5v1.5h-1.5zM293.7,386.8h1.5v1.5h-1.5zM293.7,394.1h1.5v1.5h-1.5zM293.7,407.3h1.5v1.5h-1.5zM297.2,409.1h1.5v1.5h-1.5zM311.2,401.7h1.5v1.5h-1.5zM297.2,393.6h1.5v1.5h-1.5zM304.2,391.4h1.5v1.5h-1.5zM293.7,411.0h1.5v1.5h-1.5zM304.2,406.1h1.5v1.5h-1.5zM311.2,395.4h1.5v1.5h-1.5zM311.2,388.1h1.5v1.5h-1.5zM297.2,387.2h1.5v1.5h-1.5zM297.2,394.8h1.5v1.5h-1.5zM297.2,401.6h1.5v1.5h-1.5zM304.2,400.1h1.5v1.5h-1.5zM297.2,384.2h1.5v1.5h-1.5zM297.2,407.8h1.5v1.5h-1.5zM293.7,392.4h1.5v1.5h-1.5zM300.7,407.0h1.5v1.5h-1.5zM293.7,406.7h1.5v1.5h-1.5zM304.2,403.5h1.5v1.5h-1.5zM304.2,409.0h1.5v1.5h-1.5zM311.2,412.1h1.5v1.5h-1.5zM297.2,403.4h1.5v1.5h-1.5zM297.2,397.9h1.5v1.5h-1.5zM293.7,388.4h1.5v1.5h-1.5zM293.7,413.8h1.5v1.5h-1.5zM304.2,398.1h1.5v1.5h-1.5zM297.2,415.7h1.5v1.5h-1.5zM311.2,394.9h1.5v1.5h-1.5zM297.2,398.3h1.5v1.5h-1.5zM293.7,395.7h1.5v1.5h-1.5zM300.7,414.7h1.5v1.5h-1.5zM311.2,415.7h1.5v1.5h-1.5zM300.7,298.0h1.5v1.5h-1.5zM304.2,316.5h1.5v1.5h-1.5zM304.2,328.8h1.5v1.5h-1.5zM304.2,331.9h1.5v1.5h-1.5zM300.7,344.2h1.5v1.5h-1.5zM307.7,353.5h1.5v1.5h-1.5zM300.7,359.6h1.5v1.5h-1.5zM304.2,362.7h1.5v1.5h-1.5zM304.2,365.8h1.5v1.5h-1.5zM300.7,368.9h1.5v1.5h-1.5zM300.7,372.0h1.5v1.5h-1.5zM304.2,373.2h1.5v1.5h-1.5zM297.2,374.4h1.5v1.5h-1.5zM300.7,375.1h1.5v1.5h-1.5z" fill="#000"/>
<path d="M303.2,399.2 V394.9 M295.0,399.2 h16.5 M295.0,394.9 h16.5" stroke="#111" stroke-width="1.3" fill="none"/>
<circle cx="303.5" cy="291.5" r="3.7" fill="#ee6a2a" stroke="#b04a18" stroke-width="0.5"/>
<circle cx="320.3" cy="408.3" r="3.7" fill="#ee6a2a" stroke="#b04a18" stroke-width="0.5"/>
<path d="M249.0,242.1 H301.9" stroke="#222" stroke-width="1.3"/>
<text x="254.83" y="239.70" font-size="12.20" fill="#000" textLength="41.51" lengthAdjust="spacingAndGlyphs">&lt;0.0001</text>
<text transform="translate(180.60,425.96) rotate(-90)" x="0" y="0" font-size="13.60" textLength="188.08" lengthAdjust="spacingAndGlyphs">Visible synaptosome volume (μm</text>
<text transform="translate(176.11,237.88) rotate(-90)" x="0" y="0" font-size="8.43" textLength="4.42" lengthAdjust="spacingAndGlyphs">3</text>
<text transform="translate(180.60,233.46) rotate(-90)" x="0" y="0" font-size="13.60" textLength="4.27" lengthAdjust="spacingAndGlyphs">)</text>
<g stroke="#111" stroke-width="1.4" fill="none">
<path d="M388.0,236.9 V421.5 M380.7,421.5 H503.4"/>
<path d="M381.2,421.5 H388.0"/>
<path d="M381.2,384.7 H388.0"/>
<path d="M381.2,347.9 H388.0"/>
<path d="M381.2,311.1 H388.0"/>
<path d="M381.2,274.3 H388.0"/>
<path d="M381.2,237.5 H388.0"/>
</g>
<text x="370.99" y="426.05" font-size="13.00" fill="#000" textLength="6.00" lengthAdjust="spacingAndGlyphs">0</text>
<text x="359.01" y="389.25" font-size="13.00" fill="#000" textLength="18.00" lengthAdjust="spacingAndGlyphs">200</text>
<text x="359.01" y="352.45" font-size="13.00" fill="#000" textLength="18.00" lengthAdjust="spacingAndGlyphs">400</text>
<text x="359.01" y="315.65" font-size="13.00" fill="#000" textLength="18.00" lengthAdjust="spacingAndGlyphs">600</text>
<text x="359.01" y="278.85" font-size="13.00" fill="#000" textLength="18.00" lengthAdjust="spacingAndGlyphs">800</text>
<text x="352.97" y="242.05" font-size="13.00" fill="#000" textLength="24.00" lengthAdjust="spacingAndGlyphs">1000</text>
<rect x="406.2" y="387.1" width="34.2" height="34.4" fill="#50ff16" stroke="#2a2a2a" stroke-width="0.7"/>
<path d="M427.8,398.8h1.5v1.5h-1.5zM420.8,416.7h1.5v1.5h-1.5zM417.3,413.1h1.5v1.5h-1.5zM427.8,390.4h1.5v1.5h-1.5zM417.3,367.6h1.5v1.5h-1.5zM424.3,380.6h1.5v1.5h-1.5zM424.3,398.6h1.5v1.5h-1.5zM420.8,380.7h1.5v1.5h-1.5zM424.3,383.4h1.5v1.5h-1.5zM420.8,398.3h1.5v1.5h-1.5zM420.8,360.5h1.5v1.5h-1.5zM427.8,393.5h1.5v1.5h-1.5zM420.8,385.4h1.5v1.5h-1.5zM417.3,384.5h1.5v1.5h-1.5zM420.8,394.9h1.5v1.5h-1.5zM424.3,405.1h1.5v1.5h-1.5zM424.3,368.9h1.5v1.5h-1.5zM424.3,376.2h1.5v1.5h-1.5zM424.3,417.5h1.5v1.5h-1.5zM427.8,380.1h1.5v1.5h-1.5zM431.3,382.0h1.5v1.5h-1.5zM417.3,381.9h1.5v1.5h-1.5zM424.3,394.3h1.5v1.5h-1.5zM417.3,395.9h1.5v1.5h-1.5zM427.8,386.0h1.5v1.5h-1.5zM420.8,370.6h1.5v1.5h-1.5zM427.8,358.3h1.5v1.5h-1.5zM424.3,414.9h1.5v1.5h-1.5zM413.8,379.3h1.5v1.5h-1.5zM413.8,380.8h1.5v1.5h-1.5zM417.3,392.2h1.5v1.5h-1.5zM420.8,411.6h1.5v1.5h-1.5zM431.3,397.1h1.5v1.5h-1.5zM420.8,402.5h1.5v1.5h-1.5zM424.3,386.5h1.5v1.5h-1.5zM420.8,390.0h1.5v1.5h-1.5zM420.8,373.9h1.5v1.5h-1.5zM417.3,388.5h1.5v1.5h-1.5zM427.8,413.3h1.5v1.5h-1.5zM413.8,395.0h1.5v1.5h-1.5zM431.3,387.1h1.5v1.5h-1.5zM413.8,385.2h1.5v1.5h-1.5zM424.3,384.6h1.5v1.5h-1.5zM424.3,364.4h1.5v1.5h-1.5zM413.8,395.3h1.5v1.5h-1.5zM413.8,388.5h1.5v1.5h-1.5zM424.3,390.0h1.5v1.5h-1.5zM420.8,376.5h1.5v1.5h-1.5zM413.8,398.4h1.5v1.5h-1.5zM431.3,391.9h1.5v1.5h-1.5zM420.8,407.0h1.5v1.5h-1.5zM424.3,411.6h1.5v1.5h-1.5zM413.8,389.3h1.5v1.5h-1.5zM413.8,412.3h1.5v1.5h-1.5zM431.3,384.1h1.5v1.5h-1.5zM427.8,368.9h1.5v1.5h-1.5zM420.8,391.1h1.5v1.5h-1.5zM424.3,387.6h1.5v1.5h-1.5zM417.3,401.4h1.5v1.5h-1.5zM427.8,417.7h1.5v1.5h-1.5zM417.3,385.8h1.5v1.5h-1.5zM424.3,401.7h1.5v1.5h-1.5zM417.3,387.4h1.5v1.5h-1.5zM427.8,383.6h1.5v1.5h-1.5zM427.8,377.0h1.5v1.5h-1.5zM424.3,360.2h1.5v1.5h-1.5zM417.3,390.0h1.5v1.5h-1.5zM424.3,385.4h1.5v1.5h-1.5zM417.3,416.3h1.5v1.5h-1.5zM417.3,379.0h1.5v1.5h-1.5zM427.8,410.1h1.5v1.5h-1.5zM431.3,410.6h1.5v1.5h-1.5zM417.3,381.2h1.5v1.5h-1.5zM431.3,394.4h1.5v1.5h-1.5zM420.8,389.1h1.5v1.5h-1.5zM417.3,404.5h1.5v1.5h-1.5zM417.3,371.2h1.5v1.5h-1.5zM431.3,406.8h1.5v1.5h-1.5zM427.8,388.1h1.5v1.5h-1.5zM431.3,374.5h1.5v1.5h-1.5zM417.3,375.6h1.5v1.5h-1.5zM417.3,409.7h1.5v1.5h-1.5zM417.3,390.3h1.5v1.5h-1.5zM420.8,419.6h1.5v1.5h-1.5zM431.3,413.9h1.5v1.5h-1.5zM431.3,379.2h1.5v1.5h-1.5zM427.8,380.2h1.5v1.5h-1.5zM417.3,387.0h1.5v1.5h-1.5zM424.3,395.4h1.5v1.5h-1.5zM420.8,260.7h1.5v1.5h-1.5zM420.8,275.4h1.5v1.5h-1.5zM417.3,277.2h1.5v1.5h-1.5zM424.3,291.9h1.5v1.5h-1.5zM424.3,317.7h1.5v1.5h-1.5zM420.8,319.6h1.5v1.5h-1.5zM420.8,336.1h1.5v1.5h-1.5zM424.3,337.9h1.5v1.5h-1.5zM427.8,339.8h1.5v1.5h-1.5zM424.3,343.5h1.5v1.5h-1.5zM424.3,347.1h1.5v1.5h-1.5zM420.8,350.8h1.5v1.5h-1.5zM420.8,354.5h1.5v1.5h-1.5zM424.3,356.4h1.5v1.5h-1.5z" fill="#000"/>
<path d="M423.3,419.7 V354.3 M415.0,419.7 h16.5 M415.0,354.3 h16.5" stroke="#111" stroke-width="1.3" fill="none"/>
<rect x="458.8" y="417.3" width="34.9" height="4.2" fill="#ff33ff" stroke="#2a2a2a" stroke-width="0.7"/>
<path d="M460.7,419.7h1.5v1.5h-1.5zM466.9,420.3h1.5v1.5h-1.5zM480.9,419.5h1.5v1.5h-1.5zM462.6,419.3h1.5v1.5h-1.5zM460.9,420.1h1.5v1.5h-1.5zM475.6,420.4h1.5v1.5h-1.5zM466.1,420.7h1.5v1.5h-1.5zM476.8,419.7h1.5v1.5h-1.5zM478.2,420.4h1.5v1.5h-1.5zM460.2,419.4h1.5v1.5h-1.5zM481.6,419.4h1.5v1.5h-1.5zM464.8,420.2h1.5v1.5h-1.5zM470.4,419.2h1.5v1.5h-1.5zM462.9,420.6h1.5v1.5h-1.5zM478.7,419.3h1.5v1.5h-1.5zM482.6,419.4h1.5v1.5h-1.5zM490.1,419.9h1.5v1.5h-1.5zM477.1,420.1h1.5v1.5h-1.5zM479.1,419.4h1.5v1.5h-1.5zM477.8,419.3h1.5v1.5h-1.5zM461.4,419.6h1.5v1.5h-1.5zM468.9,420.4h1.5v1.5h-1.5zM467.2,420.6h1.5v1.5h-1.5zM468.6,420.6h1.5v1.5h-1.5zM471.3,419.7h1.5v1.5h-1.5zM466.4,420.1h1.5v1.5h-1.5zM489.0,420.3h1.5v1.5h-1.5zM478.8,419.7h1.5v1.5h-1.5zM482.6,420.5h1.5v1.5h-1.5zM471.7,420.5h1.5v1.5h-1.5zM479.8,419.1h1.5v1.5h-1.5zM481.2,419.8h1.5v1.5h-1.5zM484.0,419.4h1.5v1.5h-1.5zM460.9,420.4h1.5v1.5h-1.5zM468.2,420.2h1.5v1.5h-1.5zM489.2,420.4h1.5v1.5h-1.5zM469.7,419.3h1.5v1.5h-1.5zM472.2,419.7h1.5v1.5h-1.5zM474.2,419.2h1.5v1.5h-1.5zM467.6,420.3h1.5v1.5h-1.5zM468.1,419.8h1.5v1.5h-1.5zM487.8,419.8h1.5v1.5h-1.5zM466.7,420.1h1.5v1.5h-1.5zM475.7,419.1h1.5v1.5h-1.5zM461.4,420.6h1.5v1.5h-1.5zM479.4,420.6h1.5v1.5h-1.5zM473.0,419.4h1.5v1.5h-1.5zM471.8,420.6h1.5v1.5h-1.5zM476.4,419.1h1.5v1.5h-1.5zM486.6,419.1h1.5v1.5h-1.5zM482.3,420.7h1.5v1.5h-1.5zM476.6,419.6h1.5v1.5h-1.5zM479.8,420.3h1.5v1.5h-1.5zM473.4,420.6h1.5v1.5h-1.5zM489.5,420.0h1.5v1.5h-1.5zM468.1,419.3h1.5v1.5h-1.5zM465.5,419.9h1.5v1.5h-1.5zM486.9,419.2h1.5v1.5h-1.5zM479.8,420.3h1.5v1.5h-1.5zM464.7,419.7h1.5v1.5h-1.5zM476.7,419.5h1.5v1.5h-1.5zM476.4,419.5h1.5v1.5h-1.5zM470.0,420.7h1.5v1.5h-1.5zM488.8,420.7h1.5v1.5h-1.5zM485.7,419.3h1.5v1.5h-1.5zM461.7,420.2h1.5v1.5h-1.5zM489.3,419.3h1.5v1.5h-1.5zM475.0,420.6h1.5v1.5h-1.5zM483.5,420.6h1.5v1.5h-1.5zM463.9,419.5h1.5v1.5h-1.5zM476.2,417.6h1.5v1.5h-1.5zM482.2,418.6h1.5v1.5h-1.5zM470.9,417.9h1.5v1.5h-1.5zM478.6,417.3h1.5v1.5h-1.5zM471.9,418.9h1.5v1.5h-1.5zM476.5,415.3h1.5v1.5h-1.5zM475.7,417.8h1.5v1.5h-1.5zM469.9,419.3h1.5v1.5h-1.5zM476.9,418.3h1.5v1.5h-1.5zM470.3,418.8h1.5v1.5h-1.5zM478.2,419.5h1.5v1.5h-1.5zM483.0,418.8h1.5v1.5h-1.5zM471.5,415.9h1.5v1.5h-1.5zM478.6,418.7h1.5v1.5h-1.5zM468.5,418.8h1.5v1.5h-1.5zM476.0,415.5h1.5v1.5h-1.5zM479.7,417.7h1.5v1.5h-1.5zM472.4,416.1h1.5v1.5h-1.5zM474.0,419.4h1.5v1.5h-1.5zM474.9,417.9h1.5v1.5h-1.5zM477.4,416.5h1.5v1.5h-1.5zM472.5,415.3h1.5v1.5h-1.5zM472.9,418.0h1.5v1.5h-1.5zM473.2,415.9h1.5v1.5h-1.5zM474.5,419.0h1.5v1.5h-1.5zM472.0,417.9h1.5v1.5h-1.5zM483.2,418.7h1.5v1.5h-1.5zM481.0,417.8h1.5v1.5h-1.5zM469.3,417.3h1.5v1.5h-1.5zM477.8,415.2h1.5v1.5h-1.5zM478.6,415.4h1.5v1.5h-1.5zM472.4,415.9h1.5v1.5h-1.5zM471.2,417.6h1.5v1.5h-1.5zM468.4,418.0h1.5v1.5h-1.5zM483.4,418.1h1.5v1.5h-1.5zM480.6,418.6h1.5v1.5h-1.5zM474.3,417.7h1.5v1.5h-1.5zM479.2,415.4h1.5v1.5h-1.5zM478.4,417.3h1.5v1.5h-1.5zM471.4,419.1h1.5v1.5h-1.5zM476.0,415.4h1.5v1.5h-1.5zM478.9,417.3h1.5v1.5h-1.5zM477.2,419.6h1.5v1.5h-1.5zM480.5,417.5h1.5v1.5h-1.5zM484.5,419.1h1.5v1.5h-1.5zM472.9,415.4h1.5v1.5h-1.5zM476.3,410.7h1.5v1.5h-1.5zM472.7,414.0h1.5v1.5h-1.5zM474.6,408.0h1.5v1.5h-1.5zM476.1,410.7h1.5v1.5h-1.5zM476.0,412.3h1.5v1.5h-1.5zM477.9,411.3h1.5v1.5h-1.5zM477.1,414.3h1.5v1.5h-1.5zM474.7,414.0h1.5v1.5h-1.5zM474.5,410.0h1.5v1.5h-1.5zM477.2,413.2h1.5v1.5h-1.5zM475.1,415.5h1.5v1.5h-1.5zM476.8,407.0h1.5v1.5h-1.5zM473.1,415.5h1.5v1.5h-1.5zM478.5,413.7h1.5v1.5h-1.5zM476.8,408.0h1.5v1.5h-1.5zM473.2,412.8h1.5v1.5h-1.5zM476.2,408.5h1.5v1.5h-1.5zM477.9,410.5h1.5v1.5h-1.5zM473.1,410.1h1.5v1.5h-1.5zM475.8,365.6h1.5v1.5h-1.5zM476.8,400.5h1.5v1.5h-1.5zM477.8,401.4h1.5v1.5h-1.5z" fill="#000"/>
<path d="M476.2,421.5 V404.4 M467.8,421.5 h17.0 M467.8,404.4 h17.0" stroke="#111" stroke-width="1.3" fill="none"/>
<circle cx="476.5" cy="309.3" r="3.7" fill="#ee6a2a" stroke="#b04a18" stroke-width="0.5"/>
<circle cx="494.5" cy="419.4" r="3.7" fill="#ee6a2a" stroke="#b04a18" stroke-width="0.5"/>
<path d="M423.2,243.2 H476.3" stroke="#222" stroke-width="1.3"/>
<text x="428.63" y="241.10" font-size="12.20" fill="#000" textLength="41.62" lengthAdjust="spacingAndGlyphs">&lt;0.0001</text>
<text transform="translate(351.60,371.21) rotate(-90)" x="0" y="0" font-size="14.70" fill="#000" textLength="107.53" lengthAdjust="spacingAndGlyphs">Number of vesicles</text>
<g stroke="#111" stroke-width="1.4" fill="none">
<path d="M570.5,236.2 V422.3 M563.4,422.3 H683.8"/>
<path d="M563.7,422.3 H570.5"/>
<path d="M563.7,375.9 H570.5"/>
<path d="M563.7,329.6 H570.5"/>
<path d="M563.7,283.2 H570.5"/>
<path d="M563.7,236.8 H570.5"/>
</g>
<text x="554.90" y="426.64" font-size="12.40" fill="#000" textLength="6.31" lengthAdjust="spacingAndGlyphs">0</text>
<text x="535.95" y="380.26" font-size="12.40" fill="#000" textLength="25.24" lengthAdjust="spacingAndGlyphs">2000</text>
<text x="535.95" y="333.89" font-size="12.40" fill="#000" textLength="25.24" lengthAdjust="spacingAndGlyphs">4000</text>
<text x="535.95" y="287.51" font-size="12.40" fill="#000" textLength="25.24" lengthAdjust="spacingAndGlyphs">6000</text>
<text x="535.95" y="241.14" font-size="12.40" fill="#000" textLength="25.24" lengthAdjust="spacingAndGlyphs">8000</text>
<rect x="589.1" y="377.1" width="34.5" height="45.2" fill="#50ff16" stroke="#2a2a2a" stroke-width="0.7"/>
<path d="M603.8,362.1h1.5v1.5h-1.5zM603.8,368.3h1.5v1.5h-1.5zM603.8,374.9h1.5v1.5h-1.5zM607.3,384.7h1.5v1.5h-1.5zM603.8,388.6h1.5v1.5h-1.5zM607.3,372.6h1.5v1.5h-1.5zM607.3,377.0h1.5v1.5h-1.5zM600.3,376.1h1.5v1.5h-1.5zM610.8,374.6h1.5v1.5h-1.5zM607.3,369.7h1.5v1.5h-1.5zM607.3,392.8h1.5v1.5h-1.5zM607.3,389.7h1.5v1.5h-1.5zM607.3,353.8h1.5v1.5h-1.5zM600.3,360.4h1.5v1.5h-1.5zM607.3,363.0h1.5v1.5h-1.5zM603.8,404.7h1.5v1.5h-1.5zM607.3,402.3h1.5v1.5h-1.5zM610.8,388.6h1.5v1.5h-1.5zM603.8,382.0h1.5v1.5h-1.5zM596.8,375.0h1.5v1.5h-1.5zM600.3,398.6h1.5v1.5h-1.5zM603.8,377.8h1.5v1.5h-1.5zM603.8,401.1h1.5v1.5h-1.5zM614.3,399.9h1.5v1.5h-1.5zM600.3,373.0h1.5v1.5h-1.5zM610.8,377.5h1.5v1.5h-1.5zM614.3,374.7h1.5v1.5h-1.5zM600.3,384.1h1.5v1.5h-1.5zM607.3,380.0h1.5v1.5h-1.5zM600.3,391.7h1.5v1.5h-1.5zM603.8,385.3h1.5v1.5h-1.5zM610.8,370.1h1.5v1.5h-1.5zM603.8,365.4h1.5v1.5h-1.5zM610.8,401.0h1.5v1.5h-1.5zM603.8,397.3h1.5v1.5h-1.5zM607.3,367.0h1.5v1.5h-1.5zM614.3,375.0h1.5v1.5h-1.5zM600.3,369.0h1.5v1.5h-1.5zM603.8,391.5h1.5v1.5h-1.5zM596.8,382.1h1.5v1.5h-1.5zM596.8,389.2h1.5v1.5h-1.5zM610.8,367.0h1.5v1.5h-1.5zM610.8,384.3h1.5v1.5h-1.5zM614.3,373.8h1.5v1.5h-1.5zM600.3,352.0h1.5v1.5h-1.5zM596.8,386.1h1.5v1.5h-1.5zM596.8,377.6h1.5v1.5h-1.5zM596.8,370.0h1.5v1.5h-1.5zM607.3,360.0h1.5v1.5h-1.5zM614.3,381.9h1.5v1.5h-1.5zM600.3,384.2h1.5v1.5h-1.5zM607.3,399.0h1.5v1.5h-1.5zM600.3,363.3h1.5v1.5h-1.5zM596.8,400.6h1.5v1.5h-1.5zM600.3,400.2h1.5v1.5h-1.5zM610.8,377.1h1.5v1.5h-1.5zM600.3,379.8h1.5v1.5h-1.5zM610.8,372.6h1.5v1.5h-1.5zM600.3,387.3h1.5v1.5h-1.5zM614.3,368.7h1.5v1.5h-1.5zM614.3,400.8h1.5v1.5h-1.5zM610.8,391.5h1.5v1.5h-1.5zM607.3,373.5h1.5v1.5h-1.5zM600.3,400.3h1.5v1.5h-1.5zM614.3,387.1h1.5v1.5h-1.5zM603.8,371.0h1.5v1.5h-1.5zM614.3,372.3h1.5v1.5h-1.5zM607.3,388.0h1.5v1.5h-1.5zM607.3,395.7h1.5v1.5h-1.5zM603.8,384.7h1.5v1.5h-1.5zM614.3,370.9h1.5v1.5h-1.5zM610.8,384.4h1.5v1.5h-1.5zM610.8,397.5h1.5v1.5h-1.5zM603.8,371.6h1.5v1.5h-1.5zM600.3,376.9h1.5v1.5h-1.5zM610.8,360.2h1.5v1.5h-1.5zM603.8,358.4h1.5v1.5h-1.5zM596.8,360.6h1.5v1.5h-1.5zM610.8,381.5h1.5v1.5h-1.5zM596.8,367.3h1.5v1.5h-1.5zM600.3,387.0h1.5v1.5h-1.5zM610.8,386.4h1.5v1.5h-1.5zM614.3,383.0h1.5v1.5h-1.5zM614.3,358.9h1.5v1.5h-1.5zM614.3,362.0h1.5v1.5h-1.5zM614.3,389.7h1.5v1.5h-1.5zM607.3,384.6h1.5v1.5h-1.5zM596.8,384.4h1.5v1.5h-1.5zM596.8,384.5h1.5v1.5h-1.5zM607.3,383.2h1.5v1.5h-1.5zM596.8,383.5h1.5v1.5h-1.5zM614.3,392.5h1.5v1.5h-1.5zM603.8,377.1h1.5v1.5h-1.5zM607.3,367.6h1.5v1.5h-1.5zM614.3,377.9h1.5v1.5h-1.5zM603.8,256.9h1.5v1.5h-1.5zM603.8,285.9h1.5v1.5h-1.5zM603.8,307.9h1.5v1.5h-1.5zM600.3,312.6h1.5v1.5h-1.5zM603.8,320.7h1.5v1.5h-1.5zM607.3,326.5h1.5v1.5h-1.5zM603.8,333.4h1.5v1.5h-1.5zM607.3,333.4h1.5v1.5h-1.5z" fill="#000"/>
<path d="M606.4,403.8 V350.4 M597.9,403.8 h17.0 M597.9,350.4 h17.0" stroke="#111" stroke-width="1.3" fill="none"/>
<rect x="641.6" y="406.8" width="35.4" height="15.5" fill="#ff33ff" stroke="#2a2a2a" stroke-width="0.7"/>
<path d="M660.3,406.0h1.5v1.5h-1.5zM656.8,411.1h1.5v1.5h-1.5zM660.3,418.3h1.5v1.5h-1.5zM656.8,407.5h1.5v1.5h-1.5zM653.3,405.2h1.5v1.5h-1.5zM656.8,416.3h1.5v1.5h-1.5zM656.8,421.1h1.5v1.5h-1.5zM660.3,412.0h1.5v1.5h-1.5zM667.3,411.5h1.5v1.5h-1.5zM653.3,411.0h1.5v1.5h-1.5zM656.8,403.6h1.5v1.5h-1.5zM663.8,409.5h1.5v1.5h-1.5zM663.8,406.6h1.5v1.5h-1.5zM653.3,420.4h1.5v1.5h-1.5zM649.8,411.4h1.5v1.5h-1.5zM667.3,406.9h1.5v1.5h-1.5zM663.8,420.0h1.5v1.5h-1.5zM646.3,420.0h1.5v1.5h-1.5zM653.3,407.9h1.5v1.5h-1.5zM649.8,404.9h1.5v1.5h-1.5zM649.8,420.0h1.5v1.5h-1.5zM670.8,409.8h1.5v1.5h-1.5zM667.3,418.9h1.5v1.5h-1.5zM649.8,407.7h1.5v1.5h-1.5zM646.3,409.5h1.5v1.5h-1.5zM663.8,417.0h1.5v1.5h-1.5zM653.3,417.5h1.5v1.5h-1.5zM656.8,407.4h1.5v1.5h-1.5zM667.3,411.9h1.5v1.5h-1.5zM667.3,407.4h1.5v1.5h-1.5zM653.3,414.2h1.5v1.5h-1.5zM660.3,415.3h1.5v1.5h-1.5zM663.8,403.6h1.5v1.5h-1.5zM660.3,409.1h1.5v1.5h-1.5zM663.8,412.4h1.5v1.5h-1.5zM667.3,411.6h1.5v1.5h-1.5zM649.8,408.2h1.5v1.5h-1.5zM670.8,408.4h1.5v1.5h-1.5zM670.8,404.6h1.5v1.5h-1.5zM670.8,413.9h1.5v1.5h-1.5zM646.3,406.2h1.5v1.5h-1.5zM646.3,409.2h1.5v1.5h-1.5zM649.8,405.7h1.5v1.5h-1.5zM656.8,406.6h1.5v1.5h-1.5zM649.8,406.1h1.5v1.5h-1.5zM663.8,405.1h1.5v1.5h-1.5zM667.3,403.8h1.5v1.5h-1.5zM646.3,409.7h1.5v1.5h-1.5zM653.3,411.8h1.5v1.5h-1.5zM663.8,408.4h1.5v1.5h-1.5zM653.3,406.7h1.5v1.5h-1.5zM646.3,413.7h1.5v1.5h-1.5zM670.8,413.8h1.5v1.5h-1.5zM670.8,418.8h1.5v1.5h-1.5zM653.3,407.8h1.5v1.5h-1.5zM660.3,403.2h1.5v1.5h-1.5zM667.3,414.6h1.5v1.5h-1.5zM663.8,418.4h1.5v1.5h-1.5zM660.3,417.8h1.5v1.5h-1.5zM649.8,413.7h1.5v1.5h-1.5zM653.3,416.1h1.5v1.5h-1.5zM646.3,403.6h1.5v1.5h-1.5zM656.8,420.5h1.5v1.5h-1.5zM653.3,415.8h1.5v1.5h-1.5zM667.3,419.4h1.5v1.5h-1.5zM653.3,409.5h1.5v1.5h-1.5zM670.8,407.2h1.5v1.5h-1.5zM670.8,418.2h1.5v1.5h-1.5zM670.8,420.4h1.5v1.5h-1.5zM646.3,413.0h1.5v1.5h-1.5zM646.3,410.7h1.5v1.5h-1.5zM649.8,404.7h1.5v1.5h-1.5zM660.3,420.9h1.5v1.5h-1.5zM649.8,419.5h1.5v1.5h-1.5zM649.8,418.1h1.5v1.5h-1.5zM653.3,417.5h1.5v1.5h-1.5zM646.3,417.2h1.5v1.5h-1.5zM660.3,408.2h1.5v1.5h-1.5zM670.8,410.5h1.5v1.5h-1.5zM660.3,417.4h1.5v1.5h-1.5zM660.3,400.4h1.5v1.5h-1.5zM663.8,399.1h1.5v1.5h-1.5zM656.8,400.6h1.5v1.5h-1.5zM656.8,392.5h1.5v1.5h-1.5zM653.3,398.7h1.5v1.5h-1.5zM656.8,395.4h1.5v1.5h-1.5zM663.8,391.6h1.5v1.5h-1.5zM660.3,396.3h1.5v1.5h-1.5zM667.3,399.4h1.5v1.5h-1.5zM653.3,390.7h1.5v1.5h-1.5zM660.3,390.3h1.5v1.5h-1.5zM670.8,398.2h1.5v1.5h-1.5zM663.8,395.4h1.5v1.5h-1.5zM656.8,389.7h1.5v1.5h-1.5zM649.8,396.3h1.5v1.5h-1.5zM649.8,399.9h1.5v1.5h-1.5zM653.3,402.3h1.5v1.5h-1.5zM649.8,389.8h1.5v1.5h-1.5zM660.3,360.1h1.5v1.5h-1.5zM660.3,363.6h1.5v1.5h-1.5zM656.8,375.2h1.5v1.5h-1.5zM660.3,377.5h1.5v1.5h-1.5zM656.8,378.7h1.5v1.5h-1.5zM660.3,381.0h1.5v1.5h-1.5zM656.8,382.1h1.5v1.5h-1.5zM660.3,384.4h1.5v1.5h-1.5zM656.8,385.6h1.5v1.5h-1.5zM653.3,386.8h1.5v1.5h-1.5z" fill="#000"/>
<path d="M659.3,422.3 V389.8 M650.8,422.3 h17.0 M650.8,389.8 h17.0" stroke="#111" stroke-width="1.3" fill="none"/>
<circle cx="659.8" cy="303.5" r="3.7" fill="#ee6a2a" stroke="#b04a18" stroke-width="0.5"/>
<circle cx="665.2" cy="376.5" r="3.7" fill="#ee6a2a" stroke="#b04a18" stroke-width="0.5"/>
<path d="M606.2,241.6 H659.8" stroke="#222" stroke-width="1.3"/>
<text x="611.53" y="239.40" font-size="12.20" fill="#000" textLength="41.41" lengthAdjust="spacingAndGlyphs">&lt;0.0001</text>
<text transform="translate(527.00,375.63) rotate(-90)" x="0" y="0" font-size="15.40" textLength="115.28" lengthAdjust="spacingAndGlyphs">Density (ves per μm</text>
<text transform="translate(521.92,260.35) rotate(-90)" x="0" y="0" font-size="9.55" textLength="4.46" lengthAdjust="spacingAndGlyphs">3</text>
<text transform="translate(527.00,255.89) rotate(-90)" x="0" y="0" font-size="15.40" textLength="4.31" lengthAdjust="spacingAndGlyphs">)</text>
<g stroke="#111" stroke-width="1.6" fill="none">
<path d="M256.9,456.9 V626.8 M250.2,626.8 H422.3"/>
<path d="M250.2,626.8 H256.9"/>
<path d="M252.6,609.9 H256.9"/>
<path d="M252.6,593.0 H256.9"/>
<path d="M252.6,576.0 H256.9"/>
<path d="M252.6,559.1 H256.9"/>
<path d="M250.2,542.2 H256.9"/>
<path d="M252.6,525.3 H256.9"/>
<path d="M252.6,508.4 H256.9"/>
<path d="M252.6,491.4 H256.9"/>
<path d="M252.6,474.5 H256.9"/>
<path d="M250.2,457.6 H256.9"/>
<path d="M256.8,626.8 V632.8"/>
<path d="M275.1,626.8 V631.0"/>
<path d="M293.4,626.8 V631.0"/>
<path d="M311.7,626.8 V632.8"/>
<path d="M330.0,626.8 V631.0"/>
<path d="M348.4,626.8 V631.0"/>
<path d="M366.7,626.8 V632.8"/>
<path d="M385.0,626.8 V631.0"/>
<path d="M403.3,626.8 V631.0"/>
<path d="M421.6,626.8 V632.8"/>
</g>
<text x="228.83" y="462.50" font-size="13.40" fill="#000" textLength="19.42" lengthAdjust="spacingAndGlyphs">100</text>
<text x="234.44" y="547.00" font-size="13.40" fill="#000" textLength="12.90" lengthAdjust="spacingAndGlyphs">50</text>
<text x="240.10" y="631.40" font-size="13.40" fill="#000" textLength="8.34" lengthAdjust="spacingAndGlyphs">0</text>
<text x="249.71" y="646.80" font-size="14.40" fill="#000" textLength="14.42" lengthAdjust="spacingAndGlyphs">20</text>
<text x="304.84" y="646.80" font-size="14.40" fill="#000" textLength="14.42" lengthAdjust="spacingAndGlyphs">40</text>
<text x="359.58" y="646.80" font-size="14.40" fill="#000" textLength="14.42" lengthAdjust="spacingAndGlyphs">60</text>
<text x="414.54" y="646.80" font-size="14.40" fill="#000" textLength="14.42" lengthAdjust="spacingAndGlyphs">80</text>
<text x="263.73" y="661.00" font-size="15.00" fill="#000" textLength="138.00" lengthAdjust="spacingAndGlyphs">Vesicle diameter (nm)</text>
<text transform="translate(208.20,624.75) rotate(-90)" x="0" y="0" font-size="15.40" fill="#000" textLength="150.45" lengthAdjust="spacingAndGlyphs">Cumulative Frequency</text>
<text transform="translate(226.00,599.81) rotate(-90)" x="0" y="0" font-size="15.40" fill="#000" textLength="103.80" lengthAdjust="spacingAndGlyphs">Distribution (%)</text>
<path d="M256.8,626.8 C259.2,626.8 267.0,627.4 271.2,626.6 C275.4,625.8 277.9,625.2 282.0,621.9 C286.1,618.6 292.4,612.4 295.6,607.0 C298.8,601.6 299.2,593.5 301.0,589.4 C302.8,585.3 304.4,587.3 306.4,582.6 C308.4,577.9 310.5,568.7 313.2,561.0 C315.9,553.3 319.2,544.7 322.6,536.6 C326.0,528.5 329.3,520.2 333.4,512.3 C337.5,504.4 342.0,495.6 347.0,489.3 C352.0,483.0 357.8,478.5 363.2,474.4 C368.6,470.3 373.5,467.4 379.4,464.9 C385.3,462.4 391.4,460.7 398.4,459.5 C405.4,458.3 417.5,457.9 421.3,457.6" stroke="#ff33ff" stroke-width="1.9" fill="none" stroke-linejoin="round"/>
<path d="M256.8,626.8 L271.2,626.6 L278.0,624.6 L284.8,619.2 L290.2,611.1 L295.6,597.5 L299.6,573.2 L305.0,557.0 L310.4,528.5 L317.2,502.8 L322.6,486.5 L333.4,470.3 L344.3,464.1 L363.2,460.3 L390.2,458.1 L421.3,457.6" stroke="#44f020" stroke-width="1.9" fill="none" stroke-linejoin="round"/>
<path d="M256.8,626.8 L275.0,626.6 L283.4,620.5 L291.5,608.4 L295.6,593.5 L298.3,566.4 L301.0,550.2 L305.0,544.7 L309.1,517.7 L311.8,497.4 L315.9,479.8 L322.6,470.3 L336.1,463.5 L363.2,459.5 L421.3,457.4" stroke="#ee6a2a" stroke-width="1.9" fill="none" stroke-dasharray="3.4,2.2"/>
<path d="M324.8,487.4 H344.3" stroke="#111" stroke-width="1.4"/>
<text x="345.80" y="504.10" font-size="12.60" fill="#000" textLength="43.67" lengthAdjust="spacingAndGlyphs">&lt;0.0001</text>
<text x="317.81" y="577.50" font-size="13.50" fill="#000" textLength="28.34" lengthAdjust="spacingAndGlyphs">GLU</text>
<path d="M350.2,572.2 H373.2" stroke="#44f020" stroke-width="1.6"/>
<text x="379.42" y="577.50" font-size="13.30" fill="#000" textLength="57.38" lengthAdjust="spacingAndGlyphs">n = 20 087</text>
<text x="318.81" y="597.00" font-size="13.50" fill="#000" textLength="57.33" lengthAdjust="spacingAndGlyphs">DA PSE+</text>
<path d="M381.7,592.3 H404.9" stroke="#ee6a2a" stroke-width="1.6" stroke-dasharray="3,2"/>
<text x="410.82" y="597.00" font-size="13.30" fill="#000" textLength="40.72" lengthAdjust="spacingAndGlyphs">n = 649</text>
<text x="318.76" y="616.60" font-size="13.50" fill="#000" textLength="19.80" lengthAdjust="spacingAndGlyphs">DA</text>
<path d="M344.2,612.4 H366.9" stroke="#ff33ff" stroke-width="1.6"/>
<text x="374.71" y="616.60" font-size="13.30" fill="#000" textLength="47.66" lengthAdjust="spacingAndGlyphs">n = 3004</text>
<g stroke="#111" stroke-width="1.6" fill="none">
<path d="M527.7,459.3 V628.9 M520.9,628.9 H673.0"/>
<path d="M520.9,628.9 H527.7"/>
<path d="M523.4,612.0 H527.7"/>
<path d="M523.4,595.1 H527.7"/>
<path d="M523.4,578.2 H527.7"/>
<path d="M523.4,561.3 H527.7"/>
<path d="M520.9,544.5 H527.7"/>
<path d="M523.4,527.6 H527.7"/>
<path d="M523.4,510.7 H527.7"/>
<path d="M523.4,493.8 H527.7"/>
<path d="M523.4,476.9 H527.7"/>
<path d="M520.9,460.0 H527.7"/>
<path d="M527.3,628.9 V635.1"/>
<path d="M563.5,628.9 V635.1"/>
<path d="M599.8,628.9 V635.1"/>
<path d="M636.0,628.9 V635.1"/>
<path d="M672.3,628.9 V635.1"/>
</g>
<text x="499.09" y="464.50" font-size="14.30" fill="#000" textLength="20.28" lengthAdjust="spacingAndGlyphs">100</text>
<text x="504.47" y="549.30" font-size="14.30" fill="#000" textLength="14.83" lengthAdjust="spacingAndGlyphs">50</text>
<text x="510.78" y="633.80" font-size="14.30" fill="#000" textLength="7.30" lengthAdjust="spacingAndGlyphs">0</text>
<text x="511.62" y="648.00" font-size="14.50" fill="#000" textLength="28.10" lengthAdjust="spacingAndGlyphs">0.80</text>
<text x="585.36" y="648.00" font-size="14.50" fill="#000" textLength="26.44" lengthAdjust="spacingAndGlyphs">0.90</text>
<text x="657.76" y="648.00" font-size="14.50" fill="#000" textLength="26.94" lengthAdjust="spacingAndGlyphs">1.00</text>
<text x="560.73" y="661.60" font-size="14.50" fill="#000" textLength="85.19" lengthAdjust="spacingAndGlyphs">Wadell's index</text>
<text transform="translate(485.50,611.31) rotate(-90)" x="0" y="0" font-size="13.90" fill="#000" textLength="142.21" lengthAdjust="spacingAndGlyphs">Cumulative Frequency</text>
<text transform="translate(499.40,588.13) rotate(-90)" x="0" y="0" font-size="14.00" fill="#000" textLength="96.65" lengthAdjust="spacingAndGlyphs">Distribution (%)</text>
<path d="M527.3,628.5 L554.0,627.2 L581.0,623.6 L608.0,617.2 L629.6,610.2 L645.8,603.2 L652.5,598.0 L657.4,589.1 L660.2,541.8 L664.4,477.8 L671.9,460.6" stroke="#ff33ff" stroke-width="1.9" fill="none" stroke-linejoin="round"/>
<path d="M527.3,628.7 L585.0,628.0 L626.8,625.2 L640.7,621.1 L651.9,614.1 L657.4,601.6 L659.7,561.3 L663.0,466.7 L665.8,465.3 L671.9,460.6" stroke="#44f020" stroke-width="1.9" fill="none" stroke-linejoin="round"/>
<path d="M527.3,628.9 L626.8,628.0 L649.0,624.7 L656.0,621.1 L658.8,605.8 L660.2,561.3 L663.8,461.1 L671.4,459.7" stroke="#ee6a2a" stroke-width="1.9" fill="none" stroke-dasharray="3,2"/>
<path d="M631,611.9 H646.3" stroke="#111" stroke-width="1.4"/>
<text x="592.81" y="604.60" font-size="12.40" fill="#000" textLength="42.85" lengthAdjust="spacingAndGlyphs">&lt;0.0001</text>
<text x="533.60" y="503.00" font-size="11.60" fill="#000" textLength="24.82" lengthAdjust="spacingAndGlyphs">GLU</text>
<path d="M563.2,499.2 H581.2" stroke="#44f020" stroke-width="1.4"/>
<text x="586.73" y="503.00" font-size="11.60" fill="#000" textLength="56.25" lengthAdjust="spacingAndGlyphs">n = 20 087</text>
<text x="534.35" y="518.60" font-size="11.60" fill="#000" textLength="49.70" lengthAdjust="spacingAndGlyphs">DA PSE+</text>
<path d="M587.5,515 H605.9" stroke="#ee6a2a" stroke-width="1.4" stroke-dasharray="2.6,1.8"/>
<text x="612.72" y="518.60" font-size="11.60" fill="#000" textLength="40.21" lengthAdjust="spacingAndGlyphs">n = 649</text>
<text x="534.34" y="533.80" font-size="11.60" fill="#000" textLength="16.61" lengthAdjust="spacingAndGlyphs">DA</text>
<path d="M558.5,530.9 H576.5" stroke="#ff33ff" stroke-width="1.4"/>
<text x="582.94" y="533.80" font-size="11.60" fill="#000" textLength="46.12" lengthAdjust="spacingAndGlyphs">n = 3004</text>
<defs><radialGradient id="bl" cx="0.42" cy="0.42" r="0.65"><stop offset="0" stop-color="#86cbf8"/><stop offset="0.6" stop-color="#4eaaf0"/><stop offset="1" stop-color="#3a8fd6"/></radialGradient></defs>
<path d="M537.6,460.9 C538.3,459.7 539.6,458.7 541.0,458.2 C542.4,457.7 544.2,457.2 546.0,457.8 C547.8,458.4 549.9,459.9 552.0,461.5 C554.1,463.1 556.8,465.5 558.5,467.5 C560.2,469.5 561.8,471.8 562.3,473.5 C562.8,475.2 562.5,476.6 561.5,477.5 C560.5,478.4 558.5,479.1 556.6,478.9 C554.7,478.7 552.5,477.9 550.0,476.5 C547.5,475.1 543.6,472.2 541.4,470.4 C539.2,468.6 537.2,467.1 536.6,465.5 C536.0,463.9 536.9,462.1 537.6,460.9 Z" fill="url(#bl)"/>
<path d="M577.4,452.3 C579.6,452.5 583.3,454.0 585.0,455.5 C586.7,457.0 586.8,459.8 587.5,461.5 C588.2,463.2 588.9,464.4 589.5,466.0 C590.1,467.6 591.3,469.4 591.1,471.3 C590.9,473.2 589.8,476.0 588.5,477.5 C587.2,479.0 585.2,480.0 583.1,480.2 C581.0,480.4 577.9,479.5 576.0,478.5 C574.1,477.5 573.2,476.1 572.0,474.2 C570.8,472.3 569.5,469.2 569.0,467.0 C568.5,464.8 568.4,463.0 568.9,460.9 C569.4,458.8 570.6,455.9 572.0,454.5 C573.4,453.1 575.2,452.1 577.4,452.3 Z" fill="url(#bl)"/>
<path d="M601.2,457.5 C603.0,456.0 607.2,455.0 609.7,455.2 C612.2,455.4 614.4,456.9 616.0,458.5 C617.6,460.1 618.8,462.6 619.6,464.7 C620.5,466.8 621.1,468.9 621.1,471.0 C621.1,473.1 620.3,475.7 619.5,477.0 C618.7,478.3 617.8,478.8 616.4,478.9 C615.0,479.0 612.8,478.3 611.0,477.5 C609.2,476.7 607.6,475.5 605.9,474.2 C604.1,472.9 601.7,471.2 600.5,469.5 C599.3,467.8 598.6,466.0 598.7,464.0 C598.8,462.0 599.4,459.0 601.2,457.5 Z" fill="url(#bl)"/>
<path d="M539,463 C546,468 553,472 561,476" stroke="#2f7fc6" stroke-width="0.8" fill="none" opacity="0.7"/>
<path d="M600,467 C604,471 609,475 616,478" stroke="#2f7fc6" stroke-width="0.8" fill="none" opacity="0.6"/>
<circle cx="645" cy="466.5" r="11.9" fill="url(#bl)"/>
</svg>
</body></html>
